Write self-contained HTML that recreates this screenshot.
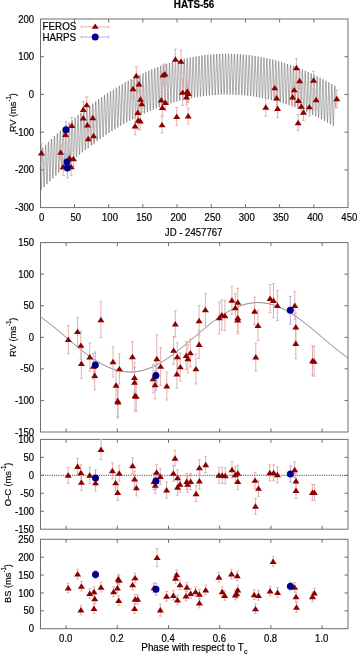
<!DOCTYPE html>
<html><head><meta charset="utf-8"><style>
html,body{margin:0;padding:0;background:#fff;width:357px;height:654px;overflow:hidden}
svg{display:block;filter:blur(0.4px)}
text{stroke:#000;stroke-width:0.18px}
</style></head><body>
<svg width="357" height="654" viewBox="0 0 357 654" font-family='"Liberation Sans", sans-serif' font-size="10.0" fill="#000"><rect width="357" height="654" fill="#fff"/><g transform="translate(194.10,7.50) scale(0.99,1)"><text text-anchor="middle" font-size="10.0" font-weight="bold">HATS-56</text></g><polyline points="40.30,166.88 40.42,172.10 40.55,177.20 40.67,181.84 40.79,185.67 40.91,188.45 41.04,189.95 41.16,190.09 41.28,188.83 41.41,186.26 41.53,182.54 41.65,177.91 41.78,172.69 41.90,167.22 42.02,161.86 42.14,156.98 42.27,152.89 42.39,149.86 42.51,148.10 42.64,147.72 42.76,148.72 42.88,151.04 43.01,154.52 43.13,158.89 43.25,163.86 43.37,169.08 43.50,174.19 43.62,178.82 43.74,182.66 43.87,185.43 43.99,186.94 44.11,187.08 44.24,185.83 44.36,183.25 44.48,179.54 44.60,174.91 44.73,169.69 44.85,164.22 44.97,158.87 45.10,153.99 45.22,149.90 45.34,146.88 45.47,145.12 45.59,144.73 45.71,145.74 45.83,148.07 45.96,151.54 46.08,155.91 46.20,160.89 46.33,166.11 46.45,171.22 46.57,175.85 46.70,179.69 46.82,182.47 46.94,183.98 47.06,184.12 47.19,182.87 47.31,180.30 47.43,176.58 47.56,171.96 47.68,166.74 47.80,161.28 47.92,155.93 48.05,151.04 48.17,146.96 48.29,143.94 48.42,142.18 48.54,141.80 48.66,142.81 48.79,145.13 48.91,148.61 49.03,152.99 49.15,157.96 49.28,163.19 49.40,168.30 49.52,172.93 49.65,176.78 49.77,179.56 49.89,181.07 50.02,181.21 50.14,179.96 50.26,177.39 50.38,173.68 50.51,169.06 50.63,163.84 50.75,158.38 50.88,153.03 51.00,148.15 51.12,144.07 51.25,141.05 51.37,139.29 51.49,138.91 51.61,139.92 51.74,142.25 51.86,145.73 51.98,150.11 52.11,155.08 52.23,160.31 52.35,165.42 52.48,170.06 52.60,173.91 52.72,176.69 52.84,178.21 52.97,178.35 53.09,177.10 53.21,174.53 53.34,170.82 53.46,166.20 53.58,160.99 53.71,155.53 53.83,150.18 53.95,145.30 54.07,141.22 54.20,138.20 54.32,136.45 54.44,136.07 54.57,137.09 54.69,139.42 54.81,142.90 54.94,147.28 55.06,152.26 55.18,157.48 55.30,162.60 55.43,167.24 55.55,171.09 55.67,173.87 55.80,175.39 55.92,175.53 56.04,174.29 56.16,171.72 56.29,168.01 56.41,163.40 56.53,158.19 56.66,152.73 56.78,147.38 56.90,142.50 57.03,138.42 57.15,135.41 57.27,133.66 57.39,133.28 57.52,134.30 57.64,136.63 57.76,140.11 57.89,144.49 58.01,149.48 58.13,154.71 58.26,159.82 58.38,164.47 58.50,168.32 58.62,171.10 58.75,172.62 58.87,172.77 58.99,171.52 59.12,168.96 59.24,165.25 59.36,160.64 59.49,155.43 59.61,149.97 59.73,144.63 59.85,139.75 59.98,135.68 60.10,132.66 60.22,130.91 60.35,130.54 60.47,131.56 60.59,133.89 60.72,137.37 60.84,141.76 60.96,146.74 61.08,151.98 61.21,157.09 61.33,161.74 61.45,165.59 61.58,168.38 61.70,169.90 61.82,170.05 61.95,168.81 62.07,166.25 62.19,162.54 62.31,157.93 62.44,152.72 62.56,147.26 62.68,141.92 62.81,137.05 62.93,132.97 63.05,129.96 63.17,128.22 63.30,127.85 63.42,128.87 63.54,131.20 63.67,134.69 63.79,139.07 63.91,144.06 64.04,149.29 64.16,154.41 64.28,159.06 64.40,162.91 64.53,165.70 64.65,167.23 64.77,167.38 64.90,166.14 65.02,163.58 65.14,159.87 65.27,155.27 65.39,150.06 65.51,144.61 65.63,139.27 65.76,134.40 65.88,130.32 66.00,127.31 66.13,125.57 66.25,125.20 66.37,126.22 66.50,128.56 66.62,132.05 66.74,136.44 66.86,141.42 66.99,146.66 67.11,151.78 67.23,156.43 67.36,160.29 67.48,163.08 67.60,164.60 67.73,164.76 67.85,163.52 67.97,160.96 68.09,157.26 68.22,152.65 68.34,147.45 68.46,142.00 68.59,136.66 68.71,131.79 68.83,127.72 68.96,124.71 69.08,122.97 69.20,122.60 69.32,123.63 69.45,125.97 69.57,129.45 69.69,133.85 69.82,138.83 69.94,144.07 70.06,149.20 70.18,153.85 70.31,157.71 70.43,160.50 70.55,162.03 70.68,162.18 70.80,160.94 70.92,158.39 71.05,154.69 71.17,150.09 71.29,144.88 71.41,139.43 71.54,134.10 71.66,129.23 71.78,125.16 71.91,122.16 72.03,120.42 72.15,120.05 72.28,121.08 72.40,123.42 72.52,126.91 72.64,131.30 72.77,136.29 72.89,141.53 73.01,146.66 73.14,151.31 73.26,155.17 73.38,157.97 73.51,159.50 73.63,159.66 73.75,158.42 73.87,155.87 74.00,152.17 74.12,147.57 74.24,142.37 74.37,136.92 74.49,131.59 74.61,126.72 74.74,122.65 74.86,119.65 74.98,117.91 75.10,117.55 75.23,118.58 75.35,120.92 75.47,124.41 75.60,128.81 75.72,133.80 75.84,139.04 75.97,144.17 76.09,148.83 76.21,152.69 76.33,155.49 76.46,157.02 76.58,157.18 76.70,155.94 76.83,153.40 76.95,149.70 77.07,145.10 77.19,139.90 77.32,134.45 77.44,129.12 77.56,124.26 77.69,120.19 77.81,117.19 77.93,115.46 78.06,115.10 78.18,116.13 78.30,118.47 78.42,121.97 78.55,126.36 78.67,131.36 78.79,136.60 78.92,141.73 79.04,146.39 79.16,150.25 79.29,153.05 79.41,154.59 79.53,154.75 79.65,153.52 79.78,150.97 79.90,147.27 80.02,142.68 80.15,137.48 80.27,132.04 80.39,126.71 80.52,121.85 80.64,117.78 80.76,114.78 80.88,113.05 81.01,112.69 81.13,113.72 81.25,116.07 81.38,119.57 81.50,123.97 81.62,128.96 81.75,134.21 81.87,139.34 81.99,144.00 82.11,147.87 82.24,150.67 82.36,152.20 82.48,152.37 82.61,151.14 82.73,148.59 82.85,144.90 82.98,140.30 83.10,135.11 83.22,129.67 83.34,124.34 83.47,119.48 83.59,115.42 83.71,112.42 83.84,110.69 83.96,110.33 84.08,111.37 84.21,113.72 84.33,117.21 84.45,121.62 84.57,126.61 84.70,131.86 84.82,137.00 84.94,141.66 85.07,145.53 85.19,148.33 85.31,149.87 85.43,150.03 85.56,148.81 85.68,146.26 85.80,142.57 85.93,137.98 86.05,132.79 86.17,127.34 86.30,122.02 86.42,117.16 86.54,113.10 86.66,110.11 86.79,108.38 86.91,108.02 87.03,109.06 87.16,111.41 87.28,114.91 87.40,119.31 87.53,124.32 87.65,129.57 87.77,134.70 87.89,139.37 88.02,143.24 88.14,146.04 88.26,147.58 88.39,147.75 88.51,146.52 88.63,143.98 88.76,140.29 88.88,135.70 89.00,130.51 89.12,125.07 89.25,119.75 89.37,114.89 89.49,110.84 89.62,107.84 89.74,106.12 89.86,105.76 89.99,106.80 90.11,109.15 90.23,112.66 90.35,117.06 90.48,122.06 90.60,127.32 90.72,132.45 90.85,137.12 90.97,140.99 91.09,143.80 91.22,145.34 91.34,145.51 91.46,144.29 91.58,141.75 91.71,138.06 91.83,133.47 91.95,128.28 92.08,122.85 92.20,117.52 92.32,112.67 92.44,108.62 92.57,105.63 92.69,103.90 92.81,103.55 92.94,104.59 93.06,106.94 93.18,110.45 93.31,114.86 93.43,119.86 93.55,125.12 93.67,130.26 93.80,134.92 93.92,138.80 94.04,141.61 94.17,143.15 94.29,143.32 94.41,142.10 94.54,139.56 94.66,135.88 94.78,131.29 94.90,126.10 95.03,120.67 95.15,115.35 95.27,110.50 95.40,106.45 95.52,103.46 95.64,101.73 95.77,101.38 95.89,102.43 96.01,104.78 96.13,108.29 96.26,112.70 96.38,117.71 96.50,122.96 96.63,128.10 96.75,132.78 96.87,136.65 97.00,139.46 97.12,141.01 97.24,141.18 97.36,139.96 97.49,137.43 97.61,133.74 97.73,129.16 97.86,123.97 97.98,118.54 98.10,113.22 98.23,108.37 98.35,104.32 98.47,101.34 98.59,99.61 98.72,99.27 98.84,100.31 98.96,102.67 99.09,106.18 99.21,110.59 99.33,115.60 99.45,120.86 99.58,126.00 99.70,130.67 99.82,134.55 99.95,137.36 100.07,138.91 100.19,139.09 100.32,137.87 100.44,135.34 100.56,131.66 100.68,127.07 100.81,121.89 100.93,116.46 101.05,111.14 101.18,106.30 101.30,102.25 101.42,99.26 101.55,97.54 101.67,97.20 101.79,98.24 101.91,100.61 102.04,104.12 102.16,108.53 102.28,113.54 102.41,118.80 102.53,123.95 102.65,128.62 102.78,132.50 102.90,135.32 103.02,136.87 103.14,137.04 103.27,135.83 103.39,133.30 103.51,129.62 103.64,125.03 103.76,119.86 103.88,114.43 104.01,109.11 104.13,104.27 104.25,100.22 104.37,97.24 104.50,95.52 104.62,95.18 104.74,96.22 104.87,98.59 104.99,102.10 105.11,106.52 105.24,111.53 105.36,116.79 105.48,121.94 105.60,126.62 105.73,130.50 105.85,133.31 105.97,134.87 106.10,135.05 106.22,133.83 106.34,131.30 106.47,127.63 106.59,123.05 106.71,117.87 106.83,112.44 106.96,107.13 107.08,102.29 107.20,98.24 107.33,95.26 107.45,93.55 107.57,93.20 107.69,94.25 107.82,96.62 107.94,100.13 108.06,104.55 108.19,109.57 108.31,114.83 108.43,119.98 108.56,124.66 108.68,128.54 108.80,131.36 108.92,132.92 109.05,133.10 109.17,131.89 109.29,129.36 109.42,125.68 109.54,121.11 109.66,115.93 109.79,110.51 109.91,105.19 110.03,100.36 110.15,96.31 110.28,93.33 110.40,91.62 110.52,91.28 110.65,92.33 110.77,94.70 110.89,98.22 111.02,102.64 111.14,107.65 111.26,112.92 111.38,118.07 111.51,122.75 111.63,126.64 111.75,129.46 111.88,131.01 112.00,131.20 112.12,129.99 112.25,127.46 112.37,123.79 112.49,119.21 112.61,114.04 112.74,108.62 112.86,103.31 112.98,98.47 113.11,94.43 113.23,91.45 113.35,89.74 113.48,89.40 113.60,90.46 113.72,92.83 113.84,96.35 113.97,100.77 114.09,105.79 114.21,111.05 114.34,116.21 114.46,120.89 114.58,124.78 114.70,127.60 114.83,129.16 114.95,129.34 115.07,128.14 115.20,125.61 115.32,121.94 115.44,117.37 115.57,112.20 115.69,106.78 115.81,101.47 115.93,96.64 116.06,92.60 116.18,89.62 116.30,87.91 116.43,87.57 116.55,88.63 116.67,91.00 116.80,94.52 116.92,98.95 117.04,103.97 117.16,109.24 117.29,114.39 117.41,119.08 117.53,122.97 117.66,125.79 117.78,127.35 117.90,127.54 118.03,126.33 118.15,123.81 118.27,120.15 118.39,115.57 118.52,110.40 118.64,104.98 118.76,99.68 118.89,94.85 119.01,90.81 119.13,87.84 119.26,86.13 119.38,85.79 119.50,86.85 119.62,89.23 119.75,92.75 119.87,97.17 119.99,102.20 120.12,107.47 120.24,112.63 120.36,117.31 120.49,121.21 120.61,124.03 120.73,125.60 120.85,125.78 120.98,124.58 121.10,122.06 121.22,118.39 121.35,113.82 121.47,108.66 121.59,103.24 121.71,97.94 121.84,93.11 121.96,89.07 122.08,86.10 122.21,84.39 122.33,84.06 122.45,85.12 122.58,87.50 122.70,91.02 122.82,95.45 122.94,100.48 123.07,105.75 123.19,110.91 123.31,115.60 123.44,119.49 123.56,122.32 123.68,123.89 123.81,124.08 123.93,122.87 124.05,120.36 124.17,116.69 124.30,112.12 124.42,106.96 124.54,101.54 124.67,96.24 124.79,91.41 124.91,87.38 125.04,84.41 125.16,82.71 125.28,82.38 125.40,83.44 125.53,85.82 125.65,89.34 125.77,93.77 125.90,98.80 126.02,104.08 126.14,109.24 126.27,113.93 126.39,117.83 126.51,120.66 126.63,122.22 126.76,122.42 126.88,121.22 127.00,118.70 127.13,115.04 127.25,110.47 127.37,105.31 127.50,99.90 127.62,94.60 127.74,89.77 127.86,85.74 127.99,82.77 128.11,81.07 128.23,80.74 128.36,81.81 128.48,84.19 128.60,87.72 128.73,92.15 128.85,97.18 128.97,102.45 129.09,107.62 129.22,112.31 129.34,116.21 129.46,119.04 129.59,120.61 129.71,120.80 129.83,119.61 129.95,117.09 130.08,113.43 130.20,108.87 130.32,103.71 130.45,98.30 130.57,93.00 130.69,88.18 130.82,84.15 130.94,81.18 131.06,79.48 131.18,79.16 131.31,80.22 131.43,82.60 131.55,86.13 131.68,90.57 131.80,95.60 131.92,100.88 132.05,106.04 132.17,110.74 132.29,114.64 132.41,117.47 132.54,119.04 132.66,119.24 132.78,118.05 132.91,115.53 133.03,111.88 133.15,107.31 133.28,102.15 133.40,96.74 133.52,91.45 133.64,86.63 133.77,82.60 133.89,79.64 134.01,77.94 134.14,77.62 134.26,78.68 134.38,81.07 134.51,84.60 134.63,89.04 134.75,94.07 134.87,99.35 135.00,104.52 135.12,109.22 135.24,113.12 135.37,115.95 135.49,117.53 135.61,117.73 135.74,116.53 135.86,114.02 135.98,110.37 136.10,105.81 136.23,100.65 136.35,95.24 136.47,89.95 136.60,85.13 136.72,81.10 136.84,78.14 136.96,76.45 137.09,76.12 137.21,77.19 137.33,79.58 137.46,83.11 137.58,87.55 137.70,92.59 137.83,97.87 137.95,103.04 138.07,107.74 138.19,111.64 138.32,114.48 138.44,116.06 138.56,116.26 138.69,115.07 138.81,112.56 138.93,108.90 139.06,104.35 139.18,99.19 139.30,93.79 139.42,88.50 139.55,83.68 139.67,79.65 139.79,76.70 139.92,75.00 140.04,74.68 140.16,75.75 140.29,78.14 140.41,81.68 140.53,86.12 140.65,91.15 140.78,96.44 140.90,101.61 141.02,106.31 141.15,110.22 141.27,113.06 141.39,114.64 141.52,114.84 141.64,113.65 141.76,111.14 141.88,107.49 142.01,102.94 142.13,97.78 142.25,92.38 142.38,87.09 142.50,82.27 142.62,78.25 142.75,75.30 142.87,73.60 142.99,73.29 143.11,74.36 143.24,76.75 143.36,80.29 143.48,84.73 143.61,89.77 143.73,95.06 143.85,100.23 143.97,104.93 144.10,108.84 144.22,111.68 144.34,113.26 144.47,113.47 144.59,112.28 144.71,109.78 144.84,106.13 144.96,101.57 145.08,96.42 145.20,91.02 145.33,85.73 145.45,80.92 145.57,76.90 145.70,73.95 145.82,72.25 145.94,71.94 146.07,73.01 146.19,75.41 146.31,78.95 146.43,83.39 146.56,88.43 146.68,93.72 146.80,98.90 146.93,103.60 147.05,107.51 147.17,110.36 147.30,111.94 147.42,112.14 147.54,110.96 147.66,108.46 147.79,104.81 147.91,100.26 148.03,95.11 148.16,89.71 148.28,84.42 148.40,79.61 148.53,75.59 148.65,72.64 148.77,70.95 148.89,70.64 149.02,71.72 149.14,74.11 149.26,77.65 149.39,82.10 149.51,87.14 149.63,92.43 149.76,97.61 149.88,102.32 150.00,106.23 150.12,109.08 150.25,110.66 150.37,110.87 150.49,109.69 150.62,107.19 150.74,103.54 150.86,98.99 150.99,93.84 151.11,88.45 151.23,83.16 151.35,78.35 151.48,74.34 151.60,71.39 151.72,69.70 151.85,69.39 151.97,70.47 152.09,72.86 152.21,76.41 152.34,80.86 152.46,85.90 152.58,91.20 152.71,96.38 152.83,101.09 152.95,105.00 153.08,107.85 153.20,109.43 153.32,109.64 153.44,108.46 153.57,105.96 153.69,102.32 153.81,97.77 153.94,92.63 154.06,87.23 154.18,81.95 154.31,77.14 154.43,73.13 154.55,70.18 154.67,68.50 154.80,68.19 154.92,69.27 155.04,71.67 155.17,75.21 155.29,79.66 155.41,84.71 155.54,90.01 155.66,95.19 155.78,99.90 155.90,103.81 156.03,106.66 156.15,108.25 156.27,108.46 156.40,107.28 156.52,104.79 156.64,101.15 156.77,96.60 156.89,91.46 157.01,86.06 157.13,80.79 157.26,75.98 157.38,71.97 157.50,69.02 157.63,67.34 157.75,67.03 157.87,68.12 158.00,70.52 158.12,74.06 158.24,78.52 158.36,83.56 158.49,88.86 158.61,94.05 158.73,98.76 158.86,102.68 158.98,105.53 159.10,107.12 159.22,107.33 159.35,106.16 159.47,103.66 159.59,100.02 159.72,95.48 159.84,90.34 159.96,84.95 160.09,79.67 160.21,74.86 160.33,70.86 160.45,67.91 160.58,66.23 160.70,65.92 160.82,67.01 160.95,69.41 161.07,72.96 161.19,77.42 161.32,82.47 161.44,87.77 161.56,92.95 161.68,97.67 161.81,101.59 161.93,104.44 162.05,106.03 162.18,106.25 162.30,105.08 162.42,102.59 162.55,98.95 162.67,94.40 162.79,89.26 162.91,83.88 163.04,78.60 163.16,73.80 163.28,69.79 163.41,66.85 163.53,65.17 163.65,64.87 163.78,65.95 163.90,68.36 164.02,71.91 164.14,76.37 164.27,81.42 164.39,86.72 164.51,91.91 164.64,96.63 164.76,100.55 164.88,103.40 165.01,105.00 165.13,105.22 165.25,104.04 165.37,101.55 165.50,97.92 165.62,93.38 165.74,88.24 165.87,82.85 165.99,77.58 166.11,72.78 166.23,68.77 166.36,65.83 166.48,64.16 166.60,63.86 166.73,64.95 166.85,67.35 166.97,70.91 167.10,75.36 167.22,80.42 167.34,85.72 167.46,90.91 167.59,95.63 167.71,99.56 167.83,102.41 167.96,104.01 168.08,104.23 168.20,103.06 168.33,100.57 168.45,96.94 168.57,92.40 168.69,87.26 168.82,81.88 168.94,76.61 169.06,71.81 169.19,67.81 169.31,64.87 169.43,63.19 169.56,62.89 169.68,63.99 169.80,66.39 169.92,69.95 170.05,74.41 170.17,79.47 170.29,84.77 170.42,89.97 170.54,94.69 170.66,98.61 170.79,101.47 170.91,103.07 171.03,103.29 171.15,102.12 171.28,99.64 171.40,96.01 171.52,91.47 171.65,86.34 171.77,80.95 171.89,75.68 172.02,70.89 172.14,66.89 172.26,63.95 172.38,62.28 172.51,61.98 172.63,63.07 172.75,65.48 172.88,69.04 173.00,73.50 173.12,78.56 173.24,83.87 173.37,89.07 173.49,93.79 173.61,97.72 173.74,100.58 173.86,102.18 173.98,102.40 174.11,101.24 174.23,98.75 174.35,95.12 174.47,90.59 174.60,85.46 174.72,80.07 174.84,74.81 174.97,70.01 175.09,66.01 175.21,63.08 175.34,61.41 175.46,61.11 175.58,62.21 175.70,64.62 175.83,68.18 175.95,72.65 176.07,77.71 176.20,83.02 176.32,88.21 176.44,92.94 176.57,96.87 176.69,99.73 176.81,101.33 176.93,101.56 177.06,100.40 177.18,97.91 177.30,94.29 177.43,89.75 177.55,84.62 177.67,79.24 177.80,73.98 177.92,69.19 178.04,65.19 178.16,62.26 178.29,60.59 178.41,60.30 178.53,61.39 178.66,63.81 178.78,67.37 178.90,71.84 179.03,76.90 179.15,82.21 179.27,87.41 179.39,92.14 179.52,96.07 179.64,98.93 179.76,100.54 179.89,100.77 180.01,99.60 180.13,97.12 180.26,93.50 180.38,88.97 180.50,83.84 180.62,78.46 180.75,73.20 180.87,68.41 180.99,64.41 181.12,61.48 181.24,59.82 181.36,59.53 181.48,60.63 181.61,63.04 181.73,66.61 181.85,71.07 181.98,76.14 182.10,81.45 182.22,86.65 182.35,91.38 182.47,95.32 182.59,98.19 182.71,99.79 182.84,100.02 182.96,98.86 183.08,96.38 183.21,92.76 183.33,88.23 183.45,83.10 183.58,77.73 183.70,72.47 183.82,67.68 183.94,63.69 184.07,60.76 184.19,59.09 184.31,58.80 184.44,59.91 184.56,62.32 184.68,65.89 184.81,70.36 184.93,75.43 185.05,80.74 185.17,85.95 185.30,90.68 185.42,94.61 185.54,97.48 185.67,99.09 185.79,99.32 185.91,98.16 186.04,95.69 186.16,92.07 186.28,87.54 186.40,82.42 186.53,77.04 186.65,71.79 186.77,67.00 186.90,63.01 187.02,60.08 187.14,58.42 187.27,58.13 187.39,59.24 187.51,61.66 187.63,65.22 187.76,69.70 187.88,74.76 188.00,80.08 188.13,85.29 188.25,90.02 188.37,93.96 188.49,96.83 188.62,98.44 188.74,98.67 188.86,97.52 188.99,95.04 189.11,91.42 189.23,86.90 189.36,81.78 189.48,76.41 189.60,71.15 189.72,66.37 189.85,62.38 189.97,59.45 190.09,57.79 190.22,57.51 190.34,58.61 190.46,61.03 190.59,64.60 190.71,69.08 190.83,74.15 190.95,79.47 191.08,84.68 191.20,89.41 191.32,93.35 191.45,96.23 191.57,97.84 191.69,98.07 191.82,96.92 191.94,94.45 192.06,90.83 192.18,86.31 192.31,81.19 192.43,75.82 192.55,70.56 192.68,65.78 192.80,61.79 192.92,58.87 193.05,57.21 193.17,56.93 193.29,58.04 193.41,60.46 193.54,64.03 193.66,68.51 193.78,73.58 193.91,78.90 194.03,84.11 194.15,88.85 194.28,92.79 194.40,95.67 194.52,97.28 194.64,97.52 194.77,96.37 194.89,93.90 195.01,90.28 195.14,85.76 195.26,80.64 195.38,75.28 195.50,70.02 195.63,65.24 195.75,61.26 195.87,58.34 196.00,56.68 196.12,56.40 196.24,57.51 196.37,59.94 196.49,63.51 196.61,67.99 196.73,73.06 196.86,78.39 196.98,83.60 197.10,88.34 197.23,92.28 197.35,95.16 197.47,96.77 197.60,97.01 197.72,95.86 197.84,93.40 197.96,89.78 198.09,85.26 198.21,80.15 198.33,74.78 198.46,69.53 198.58,64.75 198.70,60.77 198.83,57.85 198.95,56.20 199.07,55.92 199.19,57.03 199.32,59.46 199.44,63.04 199.56,67.52 199.69,72.59 199.81,77.92 199.93,83.13 200.06,87.87 200.18,91.82 200.30,94.70 200.42,96.32 200.55,96.56 200.67,95.41 200.79,92.94 200.92,89.33 201.04,84.81 201.16,79.70 201.29,74.34 201.41,69.09 201.53,64.31 201.65,60.33 201.78,57.42 201.90,55.76 202.02,55.49 202.15,56.60 202.27,59.03 202.39,62.61 202.52,67.09 202.64,72.17 202.76,77.50 202.88,82.71 203.01,87.46 203.13,91.40 203.25,94.29 203.38,95.90 203.50,96.15 203.62,95.00 203.74,92.54 203.87,88.93 203.99,84.41 204.11,79.30 204.24,73.94 204.36,68.70 204.48,63.92 204.61,59.94 204.73,57.03 204.85,55.38 204.97,55.10 205.10,56.22 205.22,58.65 205.34,62.23 205.47,66.71 205.59,71.79 205.71,77.13 205.84,82.34 205.96,87.09 206.08,91.04 206.20,93.92 206.33,95.54 206.45,95.79 206.57,94.64 206.70,92.18 206.82,88.57 206.94,84.06 207.07,78.95 207.19,73.59 207.31,68.35 207.43,63.58 207.56,59.60 207.68,56.69 207.80,55.04 207.93,54.76 208.05,55.88 208.17,58.32 208.30,61.90 208.42,66.38 208.54,71.47 208.66,76.80 208.79,82.02 208.91,86.77 209.03,90.72 209.16,93.60 209.28,95.23 209.40,95.48 209.53,94.33 209.65,91.87 209.77,88.27 209.89,83.76 210.02,78.65 210.14,73.29 210.26,68.05 210.39,63.28 210.51,59.30 210.63,56.39 210.75,54.75 210.88,54.48 211.00,55.60 211.12,58.03 211.25,61.62 211.37,66.10 211.49,71.19 211.62,76.52 211.74,81.74 211.86,86.49 211.98,90.45 212.11,93.34 212.23,94.96 212.35,95.21 212.48,94.07 212.60,91.61 212.72,88.01 212.85,83.50 212.97,78.39 213.09,73.04 213.21,67.80 213.34,63.03 213.46,59.06 213.58,56.15 213.71,54.51 213.83,54.24 213.95,55.36 214.08,57.80 214.20,61.38 214.32,65.87 214.44,70.96 214.57,76.30 214.69,81.52 214.81,86.27 214.94,90.22 215.06,93.11 215.18,94.74 215.31,95.00 215.43,93.86 215.55,91.40 215.67,87.80 215.80,83.29 215.92,78.19 216.04,72.84 216.17,67.60 216.29,62.83 216.41,58.86 216.54,55.95 216.66,54.31 216.78,54.04 216.90,55.17 217.03,57.61 217.15,61.20 217.27,65.69 217.40,70.78 217.52,76.12 217.64,81.34 217.76,86.09 217.89,90.05 218.01,92.94 218.13,94.57 218.26,94.83 218.38,93.69 218.50,91.24 218.63,87.64 218.75,83.13 218.87,78.03 218.99,72.68 219.12,67.44 219.24,62.68 219.36,58.71 219.49,55.81 219.61,54.16 219.73,53.90 219.86,55.03 219.98,57.47 220.10,61.06 220.22,65.55 220.35,70.64 220.47,75.98 220.59,81.21 220.72,85.96 220.84,89.92 220.96,92.82 221.09,94.45 221.21,94.71 221.33,93.57 221.45,91.12 221.58,87.52 221.70,83.02 221.82,77.92 221.95,72.57 222.07,67.34 222.19,62.57 222.32,58.61 222.44,55.71 222.56,54.07 222.68,53.80 222.81,54.93 222.93,57.38 223.05,60.97 223.18,65.46 223.30,70.56 223.42,75.90 223.55,81.13 223.67,85.88 223.79,89.85 223.91,92.74 224.04,94.38 224.16,94.63 224.28,93.50 224.41,91.05 224.53,87.46 224.65,82.96 224.78,77.86 224.90,72.51 225.02,67.28 225.14,62.52 225.27,58.55 225.39,55.65 225.51,54.02 225.64,53.76 225.76,54.89 225.88,57.33 226.00,60.93 226.13,65.42 226.25,70.52 226.37,75.86 226.50,81.09 226.62,85.85 226.74,89.82 226.87,92.71 226.99,94.35 227.11,94.61 227.23,93.48 227.36,91.03 227.48,87.44 227.60,82.94 227.73,77.84 227.85,72.50 227.97,67.27 228.10,62.51 228.22,58.55 228.34,55.65 228.46,54.02 228.59,53.76 228.71,54.89 228.83,57.34 228.96,60.93 229.08,65.43 229.20,70.53 229.33,75.88 229.45,81.11 229.57,85.87 229.69,89.83 229.82,92.73 229.94,94.37 230.06,94.64 230.19,93.51 230.31,91.06 230.43,87.47 230.56,82.97 230.68,77.88 230.80,72.54 230.92,67.31 231.05,62.55 231.17,58.59 231.29,55.69 231.42,54.06 231.54,53.80 231.66,54.94 231.79,57.39 231.91,60.99 232.03,65.49 232.15,70.59 232.28,75.94 232.40,81.17 232.52,85.93 232.65,89.90 232.77,92.80 232.89,94.44 233.01,94.71 233.14,93.58 233.26,91.14 233.38,87.55 233.51,83.05 233.63,77.96 233.75,72.62 233.88,67.39 234.00,62.64 234.12,58.68 234.24,55.79 234.37,54.16 234.49,53.90 234.61,55.04 234.74,57.49 234.86,61.09 234.98,65.59 235.11,70.69 235.23,76.04 235.35,81.28 235.47,86.05 235.60,90.02 235.72,92.92 235.84,94.56 235.97,94.83 236.09,93.70 236.21,91.26 236.34,87.67 236.46,83.18 236.58,78.09 236.70,72.75 236.83,67.53 236.95,62.78 237.07,58.82 237.20,55.93 237.32,54.30 237.44,54.04 237.57,55.18 237.69,57.64 237.81,61.24 237.93,65.75 238.06,70.85 238.18,76.20 238.30,81.44 238.43,86.21 238.55,90.18 238.67,93.08 238.80,94.73 238.92,95.00 239.04,93.87 239.16,91.43 239.29,87.85 239.41,83.36 239.53,78.27 239.66,72.93 239.78,67.71 239.90,62.96 240.02,59.01 240.15,56.12 240.27,54.49 240.39,54.24 240.52,55.38 240.64,57.83 240.76,61.44 240.89,65.95 241.01,71.05 241.13,76.41 241.25,81.65 241.38,86.41 241.50,90.39 241.62,93.30 241.75,94.94 241.87,95.21 241.99,94.09 242.12,91.66 242.24,88.07 242.36,83.58 242.48,78.50 242.61,73.16 242.73,67.94 242.85,63.19 242.98,59.24 243.10,56.35 243.22,54.73 243.35,54.48 243.47,55.62 243.59,58.08 243.71,61.68 243.84,66.19 243.96,71.30 244.08,76.66 244.21,81.90 244.33,86.67 244.45,90.65 244.58,93.56 244.70,95.21 244.82,95.48 244.94,94.36 245.07,91.92 245.19,88.34 245.31,83.86 245.44,78.77 245.56,73.44 245.68,68.22 245.81,63.47 245.93,59.52 246.05,56.64 246.17,55.01 246.30,54.77 246.42,55.91 246.54,58.37 246.67,61.98 246.79,66.49 246.91,71.60 247.03,76.96 247.16,82.20 247.28,86.98 247.40,90.95 247.53,93.87 247.65,95.52 247.77,95.79 247.90,94.67 248.02,92.24 248.14,88.66 248.26,84.18 248.39,79.09 248.51,73.76 248.63,68.55 248.76,63.80 248.88,59.85 249.00,56.97 249.13,55.35 249.25,55.10 249.37,56.25 249.49,58.71 249.62,62.32 249.74,66.84 249.86,71.95 249.99,77.31 250.11,82.55 250.23,87.33 250.36,91.31 250.48,94.22 250.60,95.88 250.72,96.15 250.85,95.04 250.97,92.61 251.09,89.03 251.22,84.55 251.34,79.47 251.46,74.14 251.59,68.92 251.71,64.18 251.83,60.23 251.95,57.35 252.08,55.73 252.20,55.49 252.32,56.64 252.45,59.10 252.57,62.71 252.69,67.23 252.82,72.34 252.94,77.71 253.06,82.95 253.18,87.73 253.31,91.71 253.43,94.63 253.55,96.28 253.68,96.56 253.80,95.45 253.92,93.02 254.05,89.44 254.17,84.96 254.29,79.89 254.41,74.56 254.54,69.35 254.66,64.61 254.78,60.66 254.91,57.78 255.03,56.16 255.15,55.92 255.27,57.07 255.40,59.54 255.52,63.15 255.64,67.67 255.77,72.79 255.89,78.15 256.01,83.40 256.14,88.18 256.26,92.16 256.38,95.08 256.50,96.74 256.63,97.02 256.75,95.91 256.87,93.48 257.00,89.91 257.12,85.43 257.24,80.35 257.37,75.03 257.49,69.82 257.61,65.08 257.73,61.14 257.86,58.26 257.98,56.64 258.10,56.40 258.23,57.56 258.35,60.02 258.47,63.64 258.60,68.16 258.72,73.28 258.84,78.64 258.96,83.90 259.09,88.68 259.21,92.66 259.33,95.58 259.46,97.24 259.58,97.52 259.70,96.41 259.83,93.99 259.95,90.42 260.07,85.94 260.19,80.87 260.32,75.55 260.44,70.34 260.56,65.60 260.69,61.66 260.81,58.78 260.93,57.17 261.06,56.93 261.18,58.09 261.30,60.56 261.42,64.18 261.55,68.70 261.67,73.82 261.79,79.19 261.92,84.44 262.04,89.22 262.16,93.21 262.28,96.13 262.41,97.79 262.53,98.08 262.65,96.97 262.78,94.55 262.90,90.98 263.02,86.50 263.15,81.43 263.27,76.11 263.39,70.90 263.51,66.17 263.64,62.23 263.76,59.36 263.88,57.75 264.01,57.51 264.13,58.67 264.25,61.14 264.38,64.76 264.50,69.28 264.62,74.40 264.74,79.78 264.87,85.03 264.99,89.82 265.11,93.81 265.24,96.73 265.36,98.39 265.48,98.68 265.61,97.57 265.73,95.15 265.85,91.58 265.97,87.11 266.10,82.04 266.22,76.72 266.34,71.52 266.47,66.79 266.59,62.85 266.71,59.98 266.84,58.37 266.96,58.14 267.08,59.29 267.20,61.77 267.33,65.39 267.45,69.92 267.57,75.04 267.70,80.41 267.82,85.67 267.94,90.46 268.07,94.45 268.19,97.38 268.31,99.04 268.43,99.33 268.56,98.23 268.68,95.81 268.80,92.24 268.93,87.77 269.05,82.70 269.17,77.39 269.29,72.18 269.42,67.45 269.54,63.52 269.66,60.65 269.79,59.04 269.91,58.81 270.03,59.97 270.16,62.45 270.28,66.07 270.40,70.60 270.52,75.72 270.65,81.10 270.77,86.36 270.89,91.15 271.02,95.14 271.14,98.07 271.26,99.74 271.39,100.03 271.51,98.93 271.63,96.51 271.75,92.94 271.88,88.48 272.00,83.41 272.12,78.10 272.25,72.90 272.37,68.17 272.49,64.23 272.62,61.37 272.74,59.76 272.86,59.53 272.98,60.69 273.11,63.17 273.23,66.80 273.35,71.33 273.48,76.46 273.60,81.83 273.72,87.10 273.85,91.89 273.97,95.88 274.09,98.81 274.21,100.48 274.34,100.77 274.46,99.67 274.58,97.26 274.71,93.70 274.83,89.23 274.95,84.17 275.08,78.85 275.20,73.66 275.32,68.93 275.44,65.00 275.57,62.13 275.69,60.53 275.81,60.30 275.94,61.47 276.06,63.95 276.18,67.58 276.31,72.11 276.43,77.24 276.55,82.62 276.67,87.88 276.80,92.67 276.92,96.67 277.04,99.60 277.17,101.27 277.29,101.57 277.41,100.47 277.53,98.06 277.66,94.50 277.78,90.03 277.90,84.97 278.03,79.66 278.15,74.46 278.27,69.74 278.40,65.81 278.52,62.95 278.64,61.35 278.76,61.12 278.89,62.29 279.01,64.77 279.13,68.40 279.26,72.93 279.38,78.06 279.50,83.45 279.63,88.71 279.75,93.51 279.87,97.51 279.99,100.44 280.12,102.11 280.24,102.41 280.36,101.31 280.49,98.90 280.61,95.34 280.73,90.88 280.86,85.82 280.98,80.51 281.10,75.32 281.22,70.60 281.35,66.67 281.47,63.81 281.59,62.21 281.72,61.99 281.84,63.16 281.96,65.64 282.09,69.27 282.21,73.81 282.33,78.94 282.45,84.32 282.58,89.59 282.70,94.39 282.82,98.39 282.95,101.33 283.07,103.00 283.19,103.30 283.32,102.21 283.44,99.80 283.56,96.24 283.68,91.78 283.81,86.72 283.93,81.42 284.05,76.23 284.18,71.50 284.30,67.58 284.42,64.72 284.54,63.12 284.67,62.90 284.79,64.07 284.91,66.56 285.04,70.19 285.16,74.73 285.28,79.87 285.41,85.25 285.53,90.52 285.65,95.32 285.77,99.32 285.90,102.26 286.02,103.94 286.14,104.24 286.27,103.15 286.39,100.74 286.51,97.19 286.64,92.73 286.76,87.67 286.88,82.37 287.00,77.18 287.13,72.46 287.25,68.54 287.37,65.68 287.50,64.08 287.62,63.86 287.74,65.04 287.87,67.52 287.99,71.16 288.11,75.70 288.23,80.84 288.36,86.22 288.48,91.50 288.60,96.30 288.73,100.30 288.85,103.24 288.97,104.92 289.10,105.22 289.22,104.14 289.34,101.73 289.46,98.18 289.59,93.72 289.71,88.67 289.83,83.37 289.96,78.18 290.08,73.46 290.20,69.54 290.33,66.68 290.45,65.09 290.57,64.87 290.69,66.05 290.82,68.54 290.94,72.18 291.06,76.72 291.19,81.86 291.31,87.25 291.43,92.52 291.55,97.32 291.68,101.33 291.80,104.28 291.92,105.95 292.05,106.26 292.17,105.17 292.29,102.77 292.42,99.22 292.54,94.76 292.66,89.71 292.78,84.41 292.91,79.23 293.03,74.51 293.15,70.59 293.28,67.74 293.40,66.15 293.52,65.93 293.65,67.11 293.77,69.60 293.89,73.24 294.01,77.79 294.14,82.93 294.26,88.32 294.38,93.59 294.51,98.40 294.63,102.41 294.75,105.35 294.88,107.04 295.00,107.34 295.12,106.26 295.24,103.86 295.37,100.31 295.49,95.86 295.61,90.81 295.74,85.51 295.86,80.32 295.98,75.61 296.11,71.69 296.23,68.84 296.35,67.25 296.47,67.04 296.60,68.22 296.72,70.71 296.84,74.36 296.97,78.90 297.09,84.04 297.21,89.44 297.34,94.72 297.46,99.52 297.58,103.53 297.70,106.48 297.83,108.16 297.95,108.47 298.07,107.39 298.20,104.99 298.32,101.44 298.44,96.99 298.56,91.95 298.69,86.65 298.81,81.47 298.93,76.76 299.06,72.84 299.18,69.99 299.30,68.41 299.43,68.20 299.55,69.38 299.67,71.87 299.79,75.52 299.92,80.06 300.04,85.21 300.16,90.60 300.29,95.88 300.41,100.69 300.53,104.71 300.66,107.66 300.78,109.34 300.90,109.65 301.02,108.57 301.15,106.17 301.27,102.63 301.39,98.18 301.52,93.14 301.64,87.84 301.76,82.66 301.89,77.95 302.01,74.04 302.13,71.19 302.25,69.61 302.38,69.40 302.50,70.58 302.62,73.08 302.75,76.73 302.87,81.28 302.99,86.42 303.12,91.82 303.24,97.10 303.36,101.91 303.48,105.93 303.61,108.88 303.73,110.57 303.85,110.88 303.98,109.80 304.10,107.41 304.22,103.86 304.35,99.42 304.47,94.37 304.59,89.08 304.71,83.90 304.84,79.20 304.96,75.29 305.08,72.44 305.21,70.86 305.33,70.65 305.45,71.83 305.58,74.33 305.70,77.98 305.82,82.53 305.94,87.68 306.07,93.08 306.19,98.37 306.31,103.18 306.44,107.20 306.56,110.15 306.68,111.84 306.80,112.15 306.93,111.08 307.05,108.69 307.17,105.14 307.30,100.70 307.42,95.66 307.54,90.37 307.67,85.19 307.79,80.49 307.91,76.58 308.03,73.74 308.16,72.15 308.28,71.95 308.40,73.14 308.53,75.64 308.65,79.29 308.77,83.84 308.90,88.99 309.02,94.39 309.14,99.68 309.26,104.50 309.39,108.52 309.51,111.47 309.63,113.16 309.76,113.48 309.88,112.40 310.00,110.01 310.13,106.47 310.25,102.03 310.37,96.99 310.49,91.70 310.62,86.53 310.74,81.83 310.86,77.92 310.99,75.08 311.11,73.50 311.23,73.30 311.36,74.49 311.48,76.99 311.60,80.64 311.72,85.20 311.85,90.35 311.97,95.75 312.09,101.04 312.22,105.86 312.34,109.88 312.46,112.84 312.59,114.53 312.71,114.85 312.83,113.78 312.95,111.39 313.08,107.85 313.20,103.41 313.32,98.37 313.45,93.09 313.57,87.92 313.69,83.21 313.81,79.31 313.94,76.47 314.06,74.89 314.18,74.69 314.31,75.88 314.43,78.39 314.55,82.04 314.68,86.60 314.80,91.76 314.92,97.16 315.04,102.45 315.17,107.27 315.29,111.29 315.41,114.25 315.54,115.95 315.66,116.27 315.78,115.20 315.91,112.81 316.03,109.28 316.15,104.84 316.27,99.80 316.40,94.52 316.52,89.35 316.64,84.65 316.77,80.75 316.89,77.91 317.01,76.34 317.14,76.14 317.26,77.33 317.38,79.84 317.50,83.49 317.63,88.05 317.75,93.21 317.87,98.62 318.00,103.91 318.12,108.73 318.24,112.76 318.37,115.72 318.49,117.41 318.61,117.74 318.73,116.67 318.86,114.28 318.98,110.75 319.10,106.31 319.23,101.28 319.35,96.00 319.47,90.83 319.60,86.13 319.72,82.23 319.84,79.40 319.96,77.83 320.09,77.63 320.21,78.82 320.33,81.33 320.46,84.99 320.58,89.55 320.70,94.71 320.82,100.12 320.95,105.42 321.07,110.24 321.19,114.27 321.32,117.23 321.44,118.93 321.56,119.25 321.69,118.19 321.81,115.80 321.93,112.27 322.05,107.84 322.18,102.81 322.30,97.53 322.42,92.36 322.55,87.67 322.67,83.77 322.79,80.93 322.92,79.36 323.04,79.17 323.16,80.36 323.28,82.88 323.41,86.54 323.53,91.10 323.65,96.26 323.78,101.67 323.90,106.97 324.02,111.79 324.15,115.82 324.27,118.79 324.39,120.49 324.51,120.82 324.64,119.75 324.76,117.37 324.88,113.84 325.01,109.41 325.13,104.38 325.25,99.10 325.38,93.94 325.50,89.25 325.62,85.35 325.74,82.52 325.87,80.95 325.99,80.76 326.11,81.95 326.24,84.47 326.36,88.13 326.48,92.70 326.61,97.86 326.73,103.27 326.85,108.57 326.97,113.40 327.10,117.43 327.22,120.40 327.34,122.10 327.47,122.43 327.59,121.37 327.71,118.99 327.84,115.46 327.96,111.03 328.08,106.00 328.20,100.73 328.33,95.57 328.45,90.87 328.57,86.98 328.70,84.15 328.82,82.58 328.94,82.39 329.06,83.59 329.19,86.11 329.31,89.77 329.43,94.34 329.56,99.51 329.68,104.92 329.80,110.22 329.93,115.05 330.05,119.08 330.17,122.05 330.29,123.76 330.42,124.09 330.54,123.03 330.66,120.65 330.79,117.13 330.91,112.70 331.03,107.67 331.16,102.40 331.28,97.24 331.40,92.55 331.52,88.66 331.65,85.83 331.77,84.27 331.89,84.08 332.02,85.28 332.14,87.80 332.26,91.46 332.39,96.03 332.51,101.20 332.63,106.62 332.75,111.92 332.88,116.75 333.00,120.79 333.12,123.76 333.25,125.47 333.37,125.80 333.49,124.74 333.62,122.36 333.74,118.84 333.86,114.42 333.98,109.39 334.11,104.12 334.23,98.96 334.35,94.28 334.48,90.38 334.60,87.56 334.72,86.00 334.85,85.81 334.97,87.01 335.09,89.53 335.21,93.20 335.34,97.77 335.46,102.94 335.58,108.36" fill="none" stroke="#000" stroke-width="0.32"/><rect x="40.5" y="19.0" width="307.50" height="188.60" fill="none" stroke="#6e6e6e" stroke-width="1"/><path d="M74.49,207.60v-3.5M74.49,19.00v3.5M108.68,207.60v-3.5M108.68,19.00v3.5M142.87,207.60v-3.5M142.87,19.00v3.5M177.06,207.60v-3.5M177.06,19.00v3.5M211.24,207.60v-3.5M211.24,19.00v3.5M245.43,207.60v-3.5M245.43,19.00v3.5M279.62,207.60v-3.5M279.62,19.00v3.5M313.81,207.60v-3.5M313.81,19.00v3.5M40.50,56.72h3.5M348.00,56.72h-3.5M40.50,94.44h3.5M348.00,94.44h-3.5M40.50,132.16h3.5M348.00,132.16h-3.5M40.50,169.88h3.5M348.00,169.88h-3.5" stroke="#6e6e6e" stroke-width="1" fill="none"/><g transform="translate(34.10,22.60) scale(0.955,1)"><text text-anchor="end" font-size="10.0" >200</text></g><g transform="translate(34.10,60.32) scale(0.955,1)"><text text-anchor="end" font-size="10.0" >100</text></g><g transform="translate(34.10,98.04) scale(0.955,1)"><text text-anchor="end" font-size="10.0" >0</text></g><g transform="translate(34.10,135.76) scale(0.955,1)"><text text-anchor="end" font-size="10.0" >-100</text></g><g transform="translate(34.10,173.48) scale(0.955,1)"><text text-anchor="end" font-size="10.0" >-200</text></g><g transform="translate(34.10,211.20) scale(0.955,1)"><text text-anchor="end" font-size="10.0" >-300</text></g><g transform="translate(41.60,221.40) scale(0.955,1)"><text text-anchor="middle" font-size="10.0" >0</text></g><g transform="translate(75.79,221.40) scale(0.955,1)"><text text-anchor="middle" font-size="10.0" >50</text></g><g transform="translate(109.98,221.40) scale(0.955,1)"><text text-anchor="middle" font-size="10.0" >100</text></g><g transform="translate(144.17,221.40) scale(0.955,1)"><text text-anchor="middle" font-size="10.0" >150</text></g><g transform="translate(178.36,221.40) scale(0.955,1)"><text text-anchor="middle" font-size="10.0" >200</text></g><g transform="translate(212.54,221.40) scale(0.955,1)"><text text-anchor="middle" font-size="10.0" >250</text></g><g transform="translate(246.73,221.40) scale(0.955,1)"><text text-anchor="middle" font-size="10.0" >300</text></g><g transform="translate(280.92,221.40) scale(0.955,1)"><text text-anchor="middle" font-size="10.0" >350</text></g><g transform="translate(315.11,221.40) scale(0.955,1)"><text text-anchor="middle" font-size="10.0" >400</text></g><g transform="translate(349.30,221.40) scale(0.955,1)"><text text-anchor="middle" font-size="10.0" >450</text></g><g transform="translate(193.65,235.60) scale(0.96,1)"><text text-anchor="middle" font-size="10.0" >JD - 2457767</text></g><g transform="translate(15.8,112.7) rotate(-90) scale(0.96,1)"><text text-anchor="middle" font-size="9.7">RV (ms<tspan dy="-4.5" font-size="6.3">-1</tspan><tspan dy="4.5">)</tspan></text></g><path d="M41.40,143.00V163.00M40.00,143.00h2.8M40.00,163.00h2.8" stroke="#e0a8a8" stroke-width="0.9" fill="none"/><path d="M60.60,144.40V160.40M59.20,144.40h2.8M59.20,160.40h2.8" stroke="#e0a8a8" stroke-width="0.9" fill="none"/><path d="M65.50,126.60V142.60M64.10,126.60h2.8M64.10,142.60h2.8" stroke="#e0a8a8" stroke-width="0.9" fill="none"/><path d="M71.80,117.50V133.50M70.40,117.50h2.8M70.40,133.50h2.8" stroke="#e0a8a8" stroke-width="0.9" fill="none"/><path d="M69.50,150.10V166.10M68.10,150.10h2.8M68.10,166.10h2.8" stroke="#e0a8a8" stroke-width="0.9" fill="none"/><path d="M73.50,150.70V166.70M72.10,150.70h2.8M72.10,166.70h2.8" stroke="#e0a8a8" stroke-width="0.9" fill="none"/><path d="M63.20,157.70V175.70M61.80,157.70h2.8M61.80,175.70h2.8" stroke="#e0a8a8" stroke-width="0.9" fill="none"/><path d="M71.20,157.70V175.70M69.80,157.70h2.8M69.80,175.70h2.8" stroke="#e0a8a8" stroke-width="0.9" fill="none"/><path d="M83.30,101.50V117.50M81.90,101.50h2.8M81.90,117.50h2.8" stroke="#e0a8a8" stroke-width="0.9" fill="none"/><path d="M86.70,96.90V112.90M85.30,96.90h2.8M85.30,112.90h2.8" stroke="#e0a8a8" stroke-width="0.9" fill="none"/><path d="M83.30,110.10V126.10M81.90,110.10h2.8M81.90,126.10h2.8" stroke="#e0a8a8" stroke-width="0.9" fill="none"/><path d="M92.80,109.70V125.70M91.40,109.70h2.8M91.40,125.70h2.8" stroke="#e0a8a8" stroke-width="0.9" fill="none"/><path d="M87.40,117.00V133.00M86.00,117.00h2.8M86.00,133.00h2.8" stroke="#e0a8a8" stroke-width="0.9" fill="none"/><path d="M88.20,129.70V147.70M86.80,129.70h2.8M86.80,147.70h2.8" stroke="#e0a8a8" stroke-width="0.9" fill="none"/><path d="M93.60,127.80V143.80M92.20,127.80h2.8M92.20,143.80h2.8" stroke="#e0a8a8" stroke-width="0.9" fill="none"/><path d="M133.10,80.70V96.70M131.70,80.70h2.8M131.70,96.70h2.8" stroke="#e0a8a8" stroke-width="0.9" fill="none"/><path d="M139.00,76.00V92.00M137.60,76.00h2.8M137.60,92.00h2.8" stroke="#e0a8a8" stroke-width="0.9" fill="none"/><path d="M136.30,66.80V84.80M134.90,66.80h2.8M134.90,84.80h2.8" stroke="#e0a8a8" stroke-width="0.9" fill="none"/><path d="M140.50,91.20V107.20M139.10,91.20h2.8M139.10,107.20h2.8" stroke="#e0a8a8" stroke-width="0.9" fill="none"/><path d="M141.80,95.90V111.90M140.40,95.90h2.8M140.40,111.90h2.8" stroke="#e0a8a8" stroke-width="0.9" fill="none"/><path d="M137.80,104.60V120.60M136.40,104.60h2.8M136.40,120.60h2.8" stroke="#e0a8a8" stroke-width="0.9" fill="none"/><path d="M140.20,112.00V130.00M138.80,112.00h2.8M138.80,130.00h2.8" stroke="#e0a8a8" stroke-width="0.9" fill="none"/><path d="M135.10,117.00V135.00M133.70,117.00h2.8M133.70,135.00h2.8" stroke="#e0a8a8" stroke-width="0.9" fill="none"/><path d="M163.00,65.00V85.00M161.60,65.00h2.8M161.60,85.00h2.8" stroke="#e0a8a8" stroke-width="0.9" fill="none"/><path d="M165.00,64.00V84.00M163.60,64.00h2.8M163.60,84.00h2.8" stroke="#e0a8a8" stroke-width="0.9" fill="none"/><path d="M161.20,92.00V108.00M159.80,92.00h2.8M159.80,108.00h2.8" stroke="#e0a8a8" stroke-width="0.9" fill="none"/><path d="M165.40,94.50V110.50M164.00,94.50h2.8M164.00,110.50h2.8" stroke="#e0a8a8" stroke-width="0.9" fill="none"/><path d="M162.40,99.60V115.60M161.00,99.60h2.8M161.00,115.60h2.8" stroke="#e0a8a8" stroke-width="0.9" fill="none"/><path d="M162.00,116.90V132.90M160.60,116.90h2.8M160.60,132.90h2.8" stroke="#e0a8a8" stroke-width="0.9" fill="none"/><path d="M175.40,49.30V69.30M174.00,49.30h2.8M174.00,69.30h2.8" stroke="#e0a8a8" stroke-width="0.9" fill="none"/><path d="M181.00,50.40V72.40M179.60,50.40h2.8M179.60,72.40h2.8" stroke="#e0a8a8" stroke-width="0.9" fill="none"/><path d="M182.60,79.40V105.40M181.20,79.40h2.8M181.20,105.40h2.8" stroke="#e0a8a8" stroke-width="0.9" fill="none"/><path d="M187.30,81.30V101.30M185.90,81.30h2.8M185.90,101.30h2.8" stroke="#e0a8a8" stroke-width="0.9" fill="none"/><path d="M186.50,89.10V105.10M185.10,89.10h2.8M185.10,105.10h2.8" stroke="#e0a8a8" stroke-width="0.9" fill="none"/><path d="M176.70,107.50V125.50M175.30,107.50h2.8M175.30,125.50h2.8" stroke="#e0a8a8" stroke-width="0.9" fill="none"/><path d="M188.20,108.00V124.00M186.80,108.00h2.8M186.80,124.00h2.8" stroke="#e0a8a8" stroke-width="0.9" fill="none"/><path d="M138.20,111.30V129.30M136.80,111.30h2.8M136.80,129.30h2.8" stroke="#e0a8a8" stroke-width="0.9" fill="none"/><path d="M188.30,84.60V102.60M186.90,84.60h2.8M186.90,102.60h2.8" stroke="#e0a8a8" stroke-width="0.9" fill="none"/><path d="M274.70,79.90V95.90M273.30,79.90h2.8M273.30,95.90h2.8" stroke="#e0a8a8" stroke-width="0.9" fill="none"/><path d="M276.70,90.00V106.00M275.30,90.00h2.8M275.30,106.00h2.8" stroke="#e0a8a8" stroke-width="0.9" fill="none"/><path d="M265.80,98.20V116.20M264.40,98.20h2.8M264.40,116.20h2.8" stroke="#e0a8a8" stroke-width="0.9" fill="none"/><path d="M277.60,99.60V117.60M276.20,99.60h2.8M276.20,117.60h2.8" stroke="#e0a8a8" stroke-width="0.9" fill="none"/><path d="M296.40,58.70V76.70M295.00,58.70h2.8M295.00,76.70h2.8" stroke="#e0a8a8" stroke-width="0.9" fill="none"/><path d="M299.60,72.80V88.80M298.20,72.80h2.8M298.20,88.80h2.8" stroke="#e0a8a8" stroke-width="0.9" fill="none"/><path d="M313.60,71.30V89.30M312.20,71.30h2.8M312.20,89.30h2.8" stroke="#e0a8a8" stroke-width="0.9" fill="none"/><path d="M294.20,81.90V97.90M292.80,81.90h2.8M292.80,97.90h2.8" stroke="#e0a8a8" stroke-width="0.9" fill="none"/><path d="M292.60,89.10V105.10M291.20,89.10h2.8M291.20,105.10h2.8" stroke="#e0a8a8" stroke-width="0.9" fill="none"/><path d="M298.40,92.50V108.50M297.00,92.50h2.8M297.00,108.50h2.8" stroke="#e0a8a8" stroke-width="0.9" fill="none"/><path d="M301.30,98.40V114.40M299.90,98.40h2.8M299.90,114.40h2.8" stroke="#e0a8a8" stroke-width="0.9" fill="none"/><path d="M309.40,97.90V115.90M308.00,97.90h2.8M308.00,115.90h2.8" stroke="#e0a8a8" stroke-width="0.9" fill="none"/><path d="M316.10,90.70V108.70M314.70,90.70h2.8M314.70,108.70h2.8" stroke="#e0a8a8" stroke-width="0.9" fill="none"/><path d="M303.50,104.30V120.30M302.10,104.30h2.8M302.10,120.30h2.8" stroke="#e0a8a8" stroke-width="0.9" fill="none"/><path d="M298.10,114.70V130.70M296.70,114.70h2.8M296.70,130.70h2.8" stroke="#e0a8a8" stroke-width="0.9" fill="none"/><path d="M336.80,89.80V107.80M335.40,89.80h2.8M335.40,107.80h2.8" stroke="#e0a8a8" stroke-width="0.9" fill="none"/><path d="M66.00,121.70V137.70M64.60,121.70h2.8M64.60,137.70h2.8" stroke="#a8a8e8" stroke-width="0.9" fill="none"/><path d="M67.00,154.10V170.10M65.60,154.10h2.8M65.60,170.10h2.8" stroke="#a8a8e8" stroke-width="0.9" fill="none"/><path d="M67.40,157.90V177.90M66.00,157.90h2.8M66.00,177.90h2.8" stroke="#a8a8e8" stroke-width="0.9" fill="none"/><path d="M41.40,150.00L44.90,155.45L37.90,155.45Z" fill="#8b0000"/><path d="M60.60,149.40L64.10,154.85L57.10,154.85Z" fill="#8b0000"/><path d="M65.50,131.60L69.00,137.05L62.00,137.05Z" fill="#8b0000"/><path d="M71.80,122.50L75.30,127.95L68.30,127.95Z" fill="#8b0000"/><path d="M69.50,155.10L73.00,160.55L66.00,160.55Z" fill="#8b0000"/><path d="M73.50,155.70L77.00,161.15L70.00,161.15Z" fill="#8b0000"/><path d="M63.20,163.70L66.70,169.15L59.70,169.15Z" fill="#8b0000"/><path d="M71.20,163.70L74.70,169.15L67.70,169.15Z" fill="#8b0000"/><path d="M83.30,106.50L86.80,111.95L79.80,111.95Z" fill="#8b0000"/><path d="M86.70,101.90L90.20,107.35L83.20,107.35Z" fill="#8b0000"/><path d="M83.30,115.10L86.80,120.55L79.80,120.55Z" fill="#8b0000"/><path d="M92.80,114.70L96.30,120.15L89.30,120.15Z" fill="#8b0000"/><path d="M87.40,122.00L90.90,127.45L83.90,127.45Z" fill="#8b0000"/><path d="M88.20,135.70L91.70,141.15L84.70,141.15Z" fill="#8b0000"/><path d="M93.60,132.80L97.10,138.25L90.10,138.25Z" fill="#8b0000"/><path d="M133.10,85.70L136.60,91.15L129.60,91.15Z" fill="#8b0000"/><path d="M139.00,81.00L142.50,86.45L135.50,86.45Z" fill="#8b0000"/><path d="M136.30,72.80L139.80,78.25L132.80,78.25Z" fill="#8b0000"/><path d="M140.50,96.20L144.00,101.65L137.00,101.65Z" fill="#8b0000"/><path d="M141.80,100.90L145.30,106.35L138.30,106.35Z" fill="#8b0000"/><path d="M137.80,109.60L141.30,115.05L134.30,115.05Z" fill="#8b0000"/><path d="M140.20,118.00L143.70,123.45L136.70,123.45Z" fill="#8b0000"/><path d="M135.10,123.00L138.60,128.45L131.60,128.45Z" fill="#8b0000"/><path d="M163.00,72.00L166.50,77.45L159.50,77.45Z" fill="#8b0000"/><path d="M165.00,71.00L168.50,76.45L161.50,76.45Z" fill="#8b0000"/><path d="M161.20,97.00L164.70,102.45L157.70,102.45Z" fill="#8b0000"/><path d="M165.40,99.50L168.90,104.95L161.90,104.95Z" fill="#8b0000"/><path d="M162.40,104.60L165.90,110.05L158.90,110.05Z" fill="#8b0000"/><path d="M162.00,121.90L165.50,127.35L158.50,127.35Z" fill="#8b0000"/><path d="M175.40,56.30L178.90,61.75L171.90,61.75Z" fill="#8b0000"/><path d="M181.00,58.40L184.50,63.85L177.50,63.85Z" fill="#8b0000"/><path d="M182.60,89.40L186.10,94.85L179.10,94.85Z" fill="#8b0000"/><path d="M187.30,88.30L190.80,93.75L183.80,93.75Z" fill="#8b0000"/><path d="M186.50,94.10L190.00,99.55L183.00,99.55Z" fill="#8b0000"/><path d="M176.70,113.50L180.20,118.95L173.20,118.95Z" fill="#8b0000"/><path d="M188.20,113.00L191.70,118.45L184.70,118.45Z" fill="#8b0000"/><path d="M138.20,117.30L141.70,122.75L134.70,122.75Z" fill="#8b0000"/><path d="M188.30,90.60L191.80,96.05L184.80,96.05Z" fill="#8b0000"/><path d="M274.70,84.90L278.20,90.35L271.20,90.35Z" fill="#8b0000"/><path d="M276.70,95.00L280.20,100.45L273.20,100.45Z" fill="#8b0000"/><path d="M265.80,104.20L269.30,109.65L262.30,109.65Z" fill="#8b0000"/><path d="M277.60,105.60L281.10,111.05L274.10,111.05Z" fill="#8b0000"/><path d="M296.40,64.70L299.90,70.15L292.90,70.15Z" fill="#8b0000"/><path d="M299.60,77.80L303.10,83.25L296.10,83.25Z" fill="#8b0000"/><path d="M313.60,77.30L317.10,82.75L310.10,82.75Z" fill="#8b0000"/><path d="M294.20,86.90L297.70,92.35L290.70,92.35Z" fill="#8b0000"/><path d="M292.60,94.10L296.10,99.55L289.10,99.55Z" fill="#8b0000"/><path d="M298.40,97.50L301.90,102.95L294.90,102.95Z" fill="#8b0000"/><path d="M301.30,103.40L304.80,108.85L297.80,108.85Z" fill="#8b0000"/><path d="M309.40,103.90L312.90,109.35L305.90,109.35Z" fill="#8b0000"/><path d="M316.10,96.70L319.60,102.15L312.60,102.15Z" fill="#8b0000"/><path d="M303.50,109.30L307.00,114.75L300.00,114.75Z" fill="#8b0000"/><path d="M298.10,119.70L301.60,125.15L294.60,125.15Z" fill="#8b0000"/><path d="M336.80,95.80L340.30,101.25L333.30,101.25Z" fill="#8b0000"/><circle cx="66.00" cy="129.70" r="3.5" fill="#00008b"/><circle cx="67.00" cy="162.10" r="3.5" fill="#00008b"/><circle cx="67.40" cy="167.90" r="3.5" fill="#00008b"/><g transform="translate(42.60,30.40) scale(0.98,1)"><text text-anchor="start" font-size="10.0" >FEROS</text></g><g transform="translate(42.40,40.50) scale(0.98,1)"><text text-anchor="start" font-size="10.0" >HARPS</text></g><path d="M81.3,26.9H108.7M81.3,25.5v2.8M108.7,25.5v2.8" stroke="#e0a8a8" stroke-width="0.9" fill="none"/><path d="M95.20,23.40L98.70,28.85L91.70,28.85Z" fill="#8b0000"/><path d="M81.3,37H108.7M81.3,35.6v2.8M108.7,35.6v2.8" stroke="#a8a8e8" stroke-width="0.9" fill="none"/><circle cx="95.20" cy="37.00" r="3.5" fill="#00008b"/><polyline points="40.50,316.89 41.01,317.24 41.52,317.60 42.04,317.96 42.55,318.33 43.06,318.69 43.57,319.06 44.08,319.44 44.60,319.81 45.11,320.19 45.62,320.57 46.13,320.96 46.64,321.34 47.16,321.73 47.67,322.12 48.18,322.52 48.69,322.91 49.20,323.31 49.72,323.71 50.23,324.11 50.74,324.52 51.25,324.92 51.76,325.33 52.28,325.74 52.79,326.16 53.30,326.57 53.81,326.99 54.32,327.40 54.84,327.82 55.35,328.24 55.86,328.66 56.37,329.09 56.88,329.51 57.40,329.94 57.91,330.37 58.42,330.79 58.93,331.22 59.44,331.65 59.96,332.08 60.47,332.52 60.98,332.95 61.49,333.38 62.00,333.82 62.52,334.25 63.03,334.68 63.54,335.12 64.05,335.56 64.56,335.99 65.08,336.43 65.59,336.86 66.10,337.30 66.61,337.74 67.12,338.17 67.64,338.61 68.15,339.04 68.66,339.48 69.17,339.92 69.68,340.35 70.20,340.78 70.71,341.22 71.22,341.65 71.73,342.08 72.24,342.52 72.76,342.95 73.27,343.38 73.78,343.81 74.29,344.23 74.80,344.66 75.32,345.09 75.83,345.51 76.34,345.94 76.85,346.36 77.36,346.78 77.88,347.20 78.39,347.61 78.90,348.03 79.41,348.44 79.92,348.86 80.44,349.27 80.95,349.68 81.46,350.08 81.97,350.49 82.48,350.89 83.00,351.29 83.51,351.69 84.02,352.08 84.53,352.48 85.04,352.87 85.56,353.26 86.07,353.64 86.58,354.03 87.09,354.41 87.60,354.79 88.12,355.16 88.63,355.54 89.14,355.91 89.65,356.27 90.16,356.64 90.68,357.00 91.19,357.36 91.70,357.71 92.21,358.06 92.72,358.41 93.24,358.75 93.75,359.10 94.26,359.43 94.77,359.77 95.28,360.10 95.80,360.43 96.31,360.75 96.82,361.07 97.33,361.39 97.84,361.70 98.36,362.01 98.87,362.31 99.38,362.61 99.89,362.91 100.40,363.20 100.92,363.49 101.43,363.77 101.94,364.05 102.45,364.33 102.96,364.60 103.48,364.87 103.99,365.13 104.50,365.39 105.01,365.65 105.52,365.90 106.04,366.14 106.55,366.38 107.06,366.62 107.57,366.85 108.08,367.08 108.60,367.30 109.11,367.52 109.62,367.73 110.13,367.94 110.64,368.14 111.16,368.34 111.67,368.53 112.18,368.72 112.69,368.90 113.20,369.08 113.72,369.25 114.23,369.42 114.74,369.58 115.25,369.74 115.76,369.90 116.28,370.04 116.79,370.19 117.30,370.32 117.81,370.46 118.32,370.58 118.84,370.70 119.35,370.82 119.86,370.93 120.37,371.04 120.88,371.14 121.40,371.23 121.91,371.32 122.42,371.41 122.93,371.49 123.44,371.56 123.96,371.63 124.47,371.69 124.98,371.75 125.49,371.80 126.00,371.85 126.52,371.89 127.03,371.92 127.54,371.95 128.05,371.98 128.56,372.00 129.08,372.01 129.59,372.02 130.10,372.02 130.61,372.02 131.12,372.01 131.64,372.00 132.15,371.98 132.66,371.95 133.17,371.92 133.68,371.89 134.20,371.85 134.71,371.80 135.22,371.75 135.73,371.69 136.24,371.63 136.76,371.56 137.27,371.49 137.78,371.41 138.29,371.32 138.80,371.23 139.32,371.14 139.83,371.04 140.34,370.93 140.85,370.82 141.36,370.70 141.88,370.58 142.39,370.46 142.90,370.32 143.41,370.19 143.92,370.04 144.44,369.90 144.95,369.74 145.46,369.58 145.97,369.42 146.48,369.25 147.00,369.08 147.51,368.90 148.02,368.72 148.53,368.53 149.04,368.34 149.56,368.14 150.07,367.94 150.58,367.73 151.09,367.52 151.60,367.30 152.12,367.08 152.63,366.85 153.14,366.62 153.65,366.38 154.16,366.14 154.68,365.90 155.19,365.65 155.70,365.39 156.21,365.13 156.72,364.87 157.24,364.60 157.75,364.33 158.26,364.05 158.77,363.77 159.28,363.49 159.80,363.20 160.31,362.91 160.82,362.61 161.33,362.31 161.84,362.01 162.36,361.70 162.87,361.39 163.38,361.07 163.89,360.75 164.40,360.43 164.92,360.10 165.43,359.77 165.94,359.43 166.45,359.10 166.96,358.75 167.48,358.41 167.99,358.06 168.50,357.71 169.01,357.36 169.52,357.00 170.04,356.64 170.55,356.27 171.06,355.91 171.57,355.54 172.08,355.16 172.60,354.79 173.11,354.41 173.62,354.03 174.13,353.64 174.64,353.26 175.16,352.87 175.67,352.48 176.18,352.08 176.69,351.69 177.20,351.29 177.72,350.89 178.23,350.49 178.74,350.08 179.25,349.68 179.76,349.27 180.28,348.86 180.79,348.44 181.30,348.03 181.81,347.61 182.32,347.20 182.84,346.78 183.35,346.36 183.86,345.94 184.37,345.51 184.88,345.09 185.40,344.66 185.91,344.23 186.42,343.81 186.93,343.38 187.44,342.95 187.96,342.52 188.47,342.08 188.98,341.65 189.49,341.22 190.00,340.78 190.52,340.35 191.03,339.92 191.54,339.48 192.05,339.04 192.56,338.61 193.08,338.17 193.59,337.74 194.10,337.30 194.61,336.86 195.12,336.43 195.64,335.99 196.15,335.56 196.66,335.12 197.17,334.68 197.68,334.25 198.20,333.82 198.71,333.38 199.22,332.95 199.73,332.52 200.24,332.08 200.76,331.65 201.27,331.22 201.78,330.79 202.29,330.37 202.80,329.94 203.32,329.51 203.83,329.09 204.34,328.66 204.85,328.24 205.36,327.82 205.88,327.40 206.39,326.99 206.90,326.57 207.41,326.16 207.92,325.74 208.44,325.33 208.95,324.92 209.46,324.52 209.97,324.11 210.48,323.71 211.00,323.31 211.51,322.91 212.02,322.52 212.53,322.12 213.04,321.73 213.56,321.34 214.07,320.96 214.58,320.57 215.09,320.19 215.60,319.81 216.12,319.44 216.63,319.06 217.14,318.69 217.65,318.33 218.16,317.96 218.68,317.60 219.19,317.24 219.70,316.89 220.21,316.54 220.72,316.19 221.24,315.85 221.75,315.50 222.26,315.17 222.77,314.83 223.28,314.50 223.80,314.17 224.31,313.85 224.82,313.53 225.33,313.21 225.84,312.90 226.36,312.59 226.87,312.29 227.38,311.99 227.89,311.69 228.40,311.40 228.92,311.11 229.43,310.83 229.94,310.55 230.45,310.27 230.96,310.00 231.48,309.73 231.99,309.47 232.50,309.21 233.01,308.95 233.52,308.70 234.04,308.46 234.55,308.22 235.06,307.98 235.57,307.75 236.08,307.52 236.60,307.30 237.11,307.08 237.62,306.87 238.13,306.66 238.64,306.46 239.16,306.26 239.67,306.07 240.18,305.88 240.69,305.70 241.20,305.52 241.72,305.35 242.23,305.18 242.74,305.02 243.25,304.86 243.76,304.70 244.28,304.56 244.79,304.41 245.30,304.28 245.81,304.14 246.32,304.02 246.84,303.90 247.35,303.78 247.86,303.67 248.37,303.56 248.88,303.46 249.40,303.37 249.91,303.28 250.42,303.19 250.93,303.11 251.44,303.04 251.96,302.97 252.47,302.91 252.98,302.85 253.49,302.80 254.00,302.75 254.52,302.71 255.03,302.68 255.54,302.65 256.05,302.62 256.56,302.60 257.08,302.59 257.59,302.58 258.10,302.58 258.61,302.58 259.12,302.59 259.64,302.60 260.15,302.62 260.66,302.65 261.17,302.68 261.68,302.71 262.20,302.75 262.71,302.80 263.22,302.85 263.73,302.91 264.24,302.97 264.76,303.04 265.27,303.11 265.78,303.19 266.29,303.28 266.80,303.37 267.32,303.46 267.83,303.56 268.34,303.67 268.85,303.78 269.36,303.90 269.88,304.02 270.39,304.14 270.90,304.28 271.41,304.41 271.92,304.56 272.44,304.70 272.95,304.86 273.46,305.02 273.97,305.18 274.48,305.35 275.00,305.52 275.51,305.70 276.02,305.88 276.53,306.07 277.04,306.26 277.56,306.46 278.07,306.66 278.58,306.87 279.09,307.08 279.60,307.30 280.12,307.52 280.63,307.75 281.14,307.98 281.65,308.22 282.16,308.46 282.68,308.70 283.19,308.95 283.70,309.21 284.21,309.47 284.72,309.73 285.24,310.00 285.75,310.27 286.26,310.55 286.77,310.83 287.28,311.11 287.80,311.40 288.31,311.69 288.82,311.99 289.33,312.29 289.84,312.59 290.36,312.90 290.87,313.21 291.38,313.53 291.89,313.85 292.40,314.17 292.92,314.50 293.43,314.83 293.94,315.17 294.45,315.50 294.96,315.85 295.48,316.19 295.99,316.54 296.50,316.89 297.01,317.24 297.52,317.60 298.04,317.96 298.55,318.33 299.06,318.69 299.57,319.06 300.08,319.44 300.60,319.81 301.11,320.19 301.62,320.57 302.13,320.96 302.64,321.34 303.16,321.73 303.67,322.12 304.18,322.52 304.69,322.91 305.20,323.31 305.72,323.71 306.23,324.11 306.74,324.52 307.25,324.92 307.76,325.33 308.28,325.74 308.79,326.16 309.30,326.57 309.81,326.99 310.32,327.40 310.84,327.82 311.35,328.24 311.86,328.66 312.37,329.09 312.88,329.51 313.40,329.94 313.91,330.37 314.42,330.79 314.93,331.22 315.44,331.65 315.96,332.08 316.47,332.52 316.98,332.95 317.49,333.38 318.00,333.82 318.52,334.25 319.03,334.68 319.54,335.12 320.05,335.56 320.56,335.99 321.08,336.43 321.59,336.86 322.10,337.30 322.61,337.74 323.12,338.17 323.64,338.61 324.15,339.04 324.66,339.48 325.17,339.92 325.68,340.35 326.20,340.78 326.71,341.22 327.22,341.65 327.73,342.08 328.24,342.52 328.76,342.95 329.27,343.38 329.78,343.81 330.29,344.23 330.80,344.66 331.32,345.09 331.83,345.51 332.34,345.94 332.85,346.36 333.36,346.78 333.88,347.20 334.39,347.61 334.90,348.03 335.41,348.44 335.92,348.86 336.44,349.27 336.95,349.68 337.46,350.08 337.97,350.49 338.48,350.89 339.00,351.29 339.51,351.69 340.02,352.08 340.53,352.48 341.04,352.87 341.56,353.26 342.07,353.64 342.58,354.03 343.09,354.41 343.60,354.79 344.12,355.16 344.63,355.54 345.14,355.91 345.65,356.27 346.16,356.64 346.68,357.00 347.19,357.36 347.70,357.71" fill="none" stroke="#555" stroke-width="0.8"/><rect x="40.5" y="242.6" width="307.50" height="189.40" fill="none" stroke="#6e6e6e" stroke-width="1"/><path d="M66.10,432.00v-3.5M66.10,242.60v3.5M117.30,432.00v-3.5M117.30,242.60v3.5M168.50,432.00v-3.5M168.50,242.60v3.5M219.70,432.00v-3.5M219.70,242.60v3.5M270.90,432.00v-3.5M270.90,242.60v3.5M322.10,432.00v-3.5M322.10,242.60v3.5M40.50,274.17h3.5M348.00,274.17h-3.5M40.50,305.73h3.5M348.00,305.73h-3.5M40.50,337.30h3.5M348.00,337.30h-3.5M40.50,368.87h3.5M348.00,368.87h-3.5M40.50,400.43h3.5M348.00,400.43h-3.5" stroke="#6e6e6e" stroke-width="1" fill="none"/><g transform="translate(34.10,246.20) scale(0.955,1)"><text text-anchor="end" font-size="10.0" >150</text></g><g transform="translate(34.10,277.77) scale(0.955,1)"><text text-anchor="end" font-size="10.0" >100</text></g><g transform="translate(34.10,309.33) scale(0.955,1)"><text text-anchor="end" font-size="10.0" >50</text></g><g transform="translate(34.10,340.90) scale(0.955,1)"><text text-anchor="end" font-size="10.0" >0</text></g><g transform="translate(34.10,372.47) scale(0.955,1)"><text text-anchor="end" font-size="10.0" >-50</text></g><g transform="translate(34.10,404.03) scale(0.955,1)"><text text-anchor="end" font-size="10.0" >-100</text></g><g transform="translate(34.10,435.60) scale(0.955,1)"><text text-anchor="end" font-size="10.0" >-150</text></g><g transform="translate(15.8,337.3) rotate(-90) scale(0.96,1)"><text text-anchor="middle" font-size="9.7">RV (ms<tspan dy="-4.5" font-size="6.3">-1</tspan><tspan dy="4.5">)</tspan></text></g><path d="M68.30,325.50V353.50M66.90,325.50h2.8M66.90,353.50h2.8" stroke="#e0a8a8" stroke-width="0.9" fill="none"/><path d="M77.50,317.60V345.60M76.10,317.60h2.8M76.10,345.60h2.8" stroke="#e0a8a8" stroke-width="0.9" fill="none"/><path d="M80.90,331.40V359.40M79.50,331.40h2.8M79.50,359.40h2.8" stroke="#e0a8a8" stroke-width="0.9" fill="none"/><path d="M81.40,348.50V378.50M80.00,348.50h2.8M80.00,378.50h2.8" stroke="#e0a8a8" stroke-width="0.9" fill="none"/><path d="M89.80,343.10V371.10M88.40,343.10h2.8M88.40,371.10h2.8" stroke="#e0a8a8" stroke-width="0.9" fill="none"/><path d="M93.40,353.40V379.40M92.00,353.40h2.8M92.00,379.40h2.8" stroke="#e0a8a8" stroke-width="0.9" fill="none"/><path d="M94.70,361.60V389.60M93.30,361.60h2.8M93.30,389.60h2.8" stroke="#e0a8a8" stroke-width="0.9" fill="none"/><path d="M100.90,301.80V337.80M99.50,301.80h2.8M99.50,337.80h2.8" stroke="#e0a8a8" stroke-width="0.9" fill="none"/><path d="M113.00,346.80V376.80M111.60,346.80h2.8M111.60,376.80h2.8" stroke="#e0a8a8" stroke-width="0.9" fill="none"/><path d="M119.40,353.90V383.90M118.00,353.90h2.8M118.00,383.90h2.8" stroke="#e0a8a8" stroke-width="0.9" fill="none"/><path d="M116.00,371.20V399.20M114.60,371.20h2.8M114.60,399.20h2.8" stroke="#e0a8a8" stroke-width="0.9" fill="none"/><path d="M117.70,384.80V416.80M116.30,384.80h2.8M116.30,416.80h2.8" stroke="#e0a8a8" stroke-width="0.9" fill="none"/><path d="M118.00,386.00V418.00M116.60,386.00h2.8M116.60,418.00h2.8" stroke="#e0a8a8" stroke-width="0.9" fill="none"/><path d="M132.40,341.80V371.80M131.00,341.80h2.8M131.00,371.80h2.8" stroke="#e0a8a8" stroke-width="0.9" fill="none"/><path d="M134.50,362.60V392.60M133.10,362.60h2.8M133.10,392.60h2.8" stroke="#e0a8a8" stroke-width="0.9" fill="none"/><path d="M134.50,367.40V397.40M133.10,367.40h2.8M133.10,397.40h2.8" stroke="#e0a8a8" stroke-width="0.9" fill="none"/><path d="M135.00,380.80V410.80M133.60,380.80h2.8M133.60,410.80h2.8" stroke="#e0a8a8" stroke-width="0.9" fill="none"/><path d="M136.20,381.40V411.40M134.80,381.40h2.8M134.80,411.40h2.8" stroke="#e0a8a8" stroke-width="0.9" fill="none"/><path d="M153.10,364.70V392.70M151.70,364.70h2.8M151.70,392.70h2.8" stroke="#e0a8a8" stroke-width="0.9" fill="none"/><path d="M155.10,370.90V398.90M153.70,370.90h2.8M153.70,398.90h2.8" stroke="#e0a8a8" stroke-width="0.9" fill="none"/><path d="M156.80,334.80V382.80M155.40,334.80h2.8M155.40,382.80h2.8" stroke="#e0a8a8" stroke-width="0.9" fill="none"/><path d="M160.60,347.40V385.40M159.20,347.40h2.8M159.20,385.40h2.8" stroke="#e0a8a8" stroke-width="0.9" fill="none"/><path d="M166.80,372.00V400.00M165.40,372.00h2.8M165.40,400.00h2.8" stroke="#e0a8a8" stroke-width="0.9" fill="none"/><path d="M175.30,311.00V337.00M173.90,311.00h2.8M173.90,337.00h2.8" stroke="#e0a8a8" stroke-width="0.9" fill="none"/><path d="M173.60,336.40V364.40M172.20,336.40h2.8M172.20,364.40h2.8" stroke="#e0a8a8" stroke-width="0.9" fill="none"/><path d="M177.30,342.80V370.80M175.90,342.80h2.8M175.90,370.80h2.8" stroke="#e0a8a8" stroke-width="0.9" fill="none"/><path d="M180.30,352.90V380.90M178.90,352.90h2.8M178.90,380.90h2.8" stroke="#e0a8a8" stroke-width="0.9" fill="none"/><path d="M176.90,360.00V388.00M175.50,360.00h2.8M175.50,388.00h2.8" stroke="#e0a8a8" stroke-width="0.9" fill="none"/><path d="M186.20,341.50V369.50M184.80,341.50h2.8M184.80,369.50h2.8" stroke="#e0a8a8" stroke-width="0.9" fill="none"/><path d="M190.40,338.90V366.90M189.00,338.90h2.8M189.00,366.90h2.8" stroke="#e0a8a8" stroke-width="0.9" fill="none"/><path d="M187.90,344.80V372.80M186.50,344.80h2.8M186.50,372.80h2.8" stroke="#e0a8a8" stroke-width="0.9" fill="none"/><path d="M195.90,353.90V383.90M194.50,353.90h2.8M194.50,383.90h2.8" stroke="#e0a8a8" stroke-width="0.9" fill="none"/><path d="M199.10,305.70V335.70M197.70,305.70h2.8M197.70,335.70h2.8" stroke="#e0a8a8" stroke-width="0.9" fill="none"/><path d="M199.10,330.50V358.50M197.70,330.50h2.8M197.70,358.50h2.8" stroke="#e0a8a8" stroke-width="0.9" fill="none"/><path d="M205.40,293.80V325.80M204.00,293.80h2.8M204.00,325.80h2.8" stroke="#e0a8a8" stroke-width="0.9" fill="none"/><path d="M219.30,301.90V333.90M217.90,301.90h2.8M217.90,333.90h2.8" stroke="#e0a8a8" stroke-width="0.9" fill="none"/><path d="M221.80,300.00V330.00M220.40,300.00h2.8M220.40,330.00h2.8" stroke="#e0a8a8" stroke-width="0.9" fill="none"/><path d="M224.90,300.70V330.70M223.50,300.70h2.8M223.50,330.70h2.8" stroke="#e0a8a8" stroke-width="0.9" fill="none"/><path d="M231.90,286.30V314.30M230.50,286.30h2.8M230.50,314.30h2.8" stroke="#e0a8a8" stroke-width="0.9" fill="none"/><path d="M237.80,288.30V316.30M236.40,288.30h2.8M236.40,316.30h2.8" stroke="#e0a8a8" stroke-width="0.9" fill="none"/><path d="M235.30,293.80V321.80M233.90,293.80h2.8M233.90,321.80h2.8" stroke="#e0a8a8" stroke-width="0.9" fill="none"/><path d="M237.80,303.90V331.90M236.40,303.90h2.8M236.40,331.90h2.8" stroke="#e0a8a8" stroke-width="0.9" fill="none"/><path d="M237.80,306.10V334.10M236.40,306.10h2.8M236.40,334.10h2.8" stroke="#e0a8a8" stroke-width="0.9" fill="none"/><path d="M254.60,297.20V325.20M253.20,297.20h2.8M253.20,325.20h2.8" stroke="#e0a8a8" stroke-width="0.9" fill="none"/><path d="M258.00,310.50V340.50M256.60,310.50h2.8M256.60,340.50h2.8" stroke="#e0a8a8" stroke-width="0.9" fill="none"/><path d="M255.80,343.10V371.10M254.40,343.10h2.8M254.40,371.10h2.8" stroke="#e0a8a8" stroke-width="0.9" fill="none"/><path d="M270.10,284.60V312.60M268.70,284.60h2.8M268.70,312.60h2.8" stroke="#e0a8a8" stroke-width="0.9" fill="none"/><path d="M273.50,283.60V317.60M272.10,283.60h2.8M272.10,317.60h2.8" stroke="#e0a8a8" stroke-width="0.9" fill="none"/><path d="M277.40,290.60V320.60M276.00,290.60h2.8M276.00,320.60h2.8" stroke="#e0a8a8" stroke-width="0.9" fill="none"/><path d="M294.80,291.60V319.60M293.40,291.60h2.8M293.40,319.60h2.8" stroke="#e0a8a8" stroke-width="0.9" fill="none"/><path d="M295.80,313.10V341.10M294.40,313.10h2.8M294.40,341.10h2.8" stroke="#e0a8a8" stroke-width="0.9" fill="none"/><path d="M295.80,328.60V358.60M294.40,328.60h2.8M294.40,358.60h2.8" stroke="#e0a8a8" stroke-width="0.9" fill="none"/><path d="M312.50,345.80V375.80M311.10,345.80h2.8M311.10,375.80h2.8" stroke="#e0a8a8" stroke-width="0.9" fill="none"/><path d="M314.10,346.20V376.20M312.70,346.20h2.8M312.70,376.20h2.8" stroke="#e0a8a8" stroke-width="0.9" fill="none"/><path d="M95.30,352.00V378.00M93.90,352.00h2.8M93.90,378.00h2.8" stroke="#a8a8e8" stroke-width="0.9" fill="none"/><path d="M155.90,360.60V390.60M154.50,360.60h2.8M154.50,390.60h2.8" stroke="#a8a8e8" stroke-width="0.9" fill="none"/><path d="M290.30,296.30V324.30M288.90,296.30h2.8M288.90,324.30h2.8" stroke="#a8a8e8" stroke-width="0.9" fill="none"/><path d="M68.30,336.50L71.80,341.95L64.80,341.95Z" fill="#8b0000"/><path d="M77.50,328.60L81.00,334.05L74.00,334.05Z" fill="#8b0000"/><path d="M80.90,342.40L84.40,347.85L77.40,347.85Z" fill="#8b0000"/><path d="M81.40,360.50L84.90,365.95L77.90,365.95Z" fill="#8b0000"/><path d="M89.80,354.10L93.30,359.55L86.30,359.55Z" fill="#8b0000"/><path d="M93.40,363.40L96.90,368.85L89.90,368.85Z" fill="#8b0000"/><path d="M94.70,372.60L98.20,378.05L91.20,378.05Z" fill="#8b0000"/><path d="M100.90,316.80L104.40,322.25L97.40,322.25Z" fill="#8b0000"/><path d="M113.00,358.80L116.50,364.25L109.50,364.25Z" fill="#8b0000"/><path d="M119.40,365.90L122.90,371.35L115.90,371.35Z" fill="#8b0000"/><path d="M116.00,382.20L119.50,387.65L112.50,387.65Z" fill="#8b0000"/><path d="M117.70,397.80L121.20,403.25L114.20,403.25Z" fill="#8b0000"/><path d="M118.00,399.00L121.50,404.45L114.50,404.45Z" fill="#8b0000"/><path d="M132.40,353.80L135.90,359.25L128.90,359.25Z" fill="#8b0000"/><path d="M134.50,374.60L138.00,380.05L131.00,380.05Z" fill="#8b0000"/><path d="M134.50,379.40L138.00,384.85L131.00,384.85Z" fill="#8b0000"/><path d="M135.00,392.80L138.50,398.25L131.50,398.25Z" fill="#8b0000"/><path d="M136.20,393.40L139.70,398.85L132.70,398.85Z" fill="#8b0000"/><path d="M153.10,375.70L156.60,381.15L149.60,381.15Z" fill="#8b0000"/><path d="M155.10,381.90L158.60,387.35L151.60,387.35Z" fill="#8b0000"/><path d="M156.80,355.80L160.30,361.25L153.30,361.25Z" fill="#8b0000"/><path d="M160.60,363.40L164.10,368.85L157.10,368.85Z" fill="#8b0000"/><path d="M166.80,383.00L170.30,388.45L163.30,388.45Z" fill="#8b0000"/><path d="M175.30,321.00L178.80,326.45L171.80,326.45Z" fill="#8b0000"/><path d="M173.60,347.40L177.10,352.85L170.10,352.85Z" fill="#8b0000"/><path d="M177.30,353.80L180.80,359.25L173.80,359.25Z" fill="#8b0000"/><path d="M180.30,363.90L183.80,369.35L176.80,369.35Z" fill="#8b0000"/><path d="M176.90,371.00L180.40,376.45L173.40,376.45Z" fill="#8b0000"/><path d="M186.20,352.50L189.70,357.95L182.70,357.95Z" fill="#8b0000"/><path d="M190.40,349.90L193.90,355.35L186.90,355.35Z" fill="#8b0000"/><path d="M187.90,355.80L191.40,361.25L184.40,361.25Z" fill="#8b0000"/><path d="M195.90,365.90L199.40,371.35L192.40,371.35Z" fill="#8b0000"/><path d="M199.10,317.70L202.60,323.15L195.60,323.15Z" fill="#8b0000"/><path d="M199.10,341.50L202.60,346.95L195.60,346.95Z" fill="#8b0000"/><path d="M205.40,306.80L208.90,312.25L201.90,312.25Z" fill="#8b0000"/><path d="M219.30,314.90L222.80,320.35L215.80,320.35Z" fill="#8b0000"/><path d="M221.80,312.00L225.30,317.45L218.30,317.45Z" fill="#8b0000"/><path d="M224.90,312.70L228.40,318.15L221.40,318.15Z" fill="#8b0000"/><path d="M231.90,297.30L235.40,302.75L228.40,302.75Z" fill="#8b0000"/><path d="M237.80,299.30L241.30,304.75L234.30,304.75Z" fill="#8b0000"/><path d="M235.30,304.80L238.80,310.25L231.80,310.25Z" fill="#8b0000"/><path d="M237.80,314.90L241.30,320.35L234.30,320.35Z" fill="#8b0000"/><path d="M237.80,317.10L241.30,322.55L234.30,322.55Z" fill="#8b0000"/><path d="M254.60,308.20L258.10,313.65L251.10,313.65Z" fill="#8b0000"/><path d="M258.00,322.50L261.50,327.95L254.50,327.95Z" fill="#8b0000"/><path d="M255.80,354.10L259.30,359.55L252.30,359.55Z" fill="#8b0000"/><path d="M270.10,295.60L273.60,301.05L266.60,301.05Z" fill="#8b0000"/><path d="M273.50,297.60L277.00,303.05L270.00,303.05Z" fill="#8b0000"/><path d="M277.40,302.60L280.90,308.05L273.90,308.05Z" fill="#8b0000"/><path d="M294.80,302.60L298.30,308.05L291.30,308.05Z" fill="#8b0000"/><path d="M295.80,324.10L299.30,329.55L292.30,329.55Z" fill="#8b0000"/><path d="M295.80,340.60L299.30,346.05L292.30,346.05Z" fill="#8b0000"/><path d="M312.50,357.80L316.00,363.25L309.00,363.25Z" fill="#8b0000"/><path d="M314.10,358.20L317.60,363.65L310.60,363.65Z" fill="#8b0000"/><circle cx="95.30" cy="365.00" r="3.5" fill="#00008b"/><circle cx="155.90" cy="375.60" r="3.5" fill="#00008b"/><circle cx="290.30" cy="310.30" r="3.5" fill="#00008b"/><path d="M40.5,475.32H348.0" stroke="#333" stroke-width="0.9" stroke-dasharray="1.1 1.15"/><rect x="40.5" y="439.4" width="307.50" height="89.80" fill="none" stroke="#6e6e6e" stroke-width="1"/><path d="M66.10,529.20v-3.5M66.10,439.40v3.5M117.30,529.20v-3.5M117.30,439.40v3.5M168.50,529.20v-3.5M168.50,439.40v3.5M219.70,529.20v-3.5M219.70,439.40v3.5M270.90,529.20v-3.5M270.90,439.40v3.5M322.10,529.20v-3.5M322.10,439.40v3.5M40.50,457.36h3.5M348.00,457.36h-3.5M40.50,475.32h3.5M348.00,475.32h-3.5M40.50,493.28h3.5M348.00,493.28h-3.5M40.50,511.24h3.5M348.00,511.24h-3.5" stroke="#6e6e6e" stroke-width="1" fill="none"/><g transform="translate(34.10,443.00) scale(0.955,1)"><text text-anchor="end" font-size="10.0" >100</text></g><g transform="translate(34.10,460.96) scale(0.955,1)"><text text-anchor="end" font-size="10.0" >50</text></g><g transform="translate(34.10,478.92) scale(0.955,1)"><text text-anchor="end" font-size="10.0" >0</text></g><g transform="translate(34.10,496.88) scale(0.955,1)"><text text-anchor="end" font-size="10.0" >-50</text></g><g transform="translate(34.10,514.84) scale(0.955,1)"><text text-anchor="end" font-size="10.0" >-100</text></g><g transform="translate(34.10,532.80) scale(0.955,1)"><text text-anchor="end" font-size="10.0" >-150</text></g><g transform="translate(10.8,484.4) rotate(-90) scale(0.96,1)"><text text-anchor="middle" font-size="9.7">O-C (ms<tspan dy="-4.5" font-size="6.3">-1</tspan><tspan dy="4.5">)</tspan></text></g><path d="M68.20,467.30V483.30M66.80,467.30h2.8M66.80,483.30h2.8" stroke="#e0a8a8" stroke-width="0.9" fill="none"/><path d="M77.60,458.50V474.50M76.20,458.50h2.8M76.20,474.50h2.8" stroke="#e0a8a8" stroke-width="0.9" fill="none"/><path d="M80.90,464.80V480.80M79.50,464.80h2.8M79.50,480.80h2.8" stroke="#e0a8a8" stroke-width="0.9" fill="none"/><path d="M81.40,474.40V490.40M80.00,474.40h2.8M80.00,490.40h2.8" stroke="#e0a8a8" stroke-width="0.9" fill="none"/><path d="M89.70,467.30V483.30M88.30,467.30h2.8M88.30,483.30h2.8" stroke="#e0a8a8" stroke-width="0.9" fill="none"/><path d="M95.50,474.90V490.90M94.10,474.90h2.8M94.10,490.90h2.8" stroke="#e0a8a8" stroke-width="0.9" fill="none"/><path d="M101.00,439.60V459.60M99.60,439.60h2.8M99.60,459.60h2.8" stroke="#e0a8a8" stroke-width="0.9" fill="none"/><path d="M112.40,462.80V478.80M111.00,462.80h2.8M111.00,478.80h2.8" stroke="#e0a8a8" stroke-width="0.9" fill="none"/><path d="M119.20,465.30V481.30M117.80,465.30h2.8M117.80,481.30h2.8" stroke="#e0a8a8" stroke-width="0.9" fill="none"/><path d="M115.60,474.90V490.90M114.20,474.90h2.8M114.20,490.90h2.8" stroke="#e0a8a8" stroke-width="0.9" fill="none"/><path d="M117.70,484.50V500.50M116.30,484.50h2.8M116.30,500.50h2.8" stroke="#e0a8a8" stroke-width="0.9" fill="none"/><path d="M132.60,457.80V473.80M131.20,457.80h2.8M131.20,473.80h2.8" stroke="#e0a8a8" stroke-width="0.9" fill="none"/><path d="M134.60,471.10V487.10M133.20,471.10h2.8M133.20,487.10h2.8" stroke="#e0a8a8" stroke-width="0.9" fill="none"/><path d="M136.40,479.90V495.90M135.00,479.90h2.8M135.00,495.90h2.8" stroke="#e0a8a8" stroke-width="0.9" fill="none"/><path d="M156.60,464.30V480.30M155.20,464.30h2.8M155.20,480.30h2.8" stroke="#e0a8a8" stroke-width="0.9" fill="none"/><path d="M160.30,468.60V484.60M158.90,468.60h2.8M158.90,484.60h2.8" stroke="#e0a8a8" stroke-width="0.9" fill="none"/><path d="M154.00,473.60V489.60M152.60,473.60h2.8M152.60,489.60h2.8" stroke="#e0a8a8" stroke-width="0.9" fill="none"/><path d="M155.30,477.40V493.40M153.90,477.40h2.8M153.90,493.40h2.8" stroke="#e0a8a8" stroke-width="0.9" fill="none"/><path d="M166.60,482.00V498.00M165.20,482.00h2.8M165.20,498.00h2.8" stroke="#e0a8a8" stroke-width="0.9" fill="none"/><path d="M175.00,450.20V466.20M173.60,450.20h2.8M173.60,466.20h2.8" stroke="#e0a8a8" stroke-width="0.9" fill="none"/><path d="M173.40,465.30V481.30M172.00,465.30h2.8M172.00,481.30h2.8" stroke="#e0a8a8" stroke-width="0.9" fill="none"/><path d="M177.50,469.90V485.90M176.10,469.90h2.8M176.10,485.90h2.8" stroke="#e0a8a8" stroke-width="0.9" fill="none"/><path d="M180.00,476.20V492.20M178.60,476.20h2.8M178.60,492.20h2.8" stroke="#e0a8a8" stroke-width="0.9" fill="none"/><path d="M177.50,479.20V495.20M176.10,479.20h2.8M176.10,495.20h2.8" stroke="#e0a8a8" stroke-width="0.9" fill="none"/><path d="M186.80,473.60V489.60M185.40,473.60h2.8M185.40,489.60h2.8" stroke="#e0a8a8" stroke-width="0.9" fill="none"/><path d="M190.60,473.60V489.60M189.20,473.60h2.8M189.20,489.60h2.8" stroke="#e0a8a8" stroke-width="0.9" fill="none"/><path d="M187.60,476.20V492.20M186.20,476.20h2.8M186.20,492.20h2.8" stroke="#e0a8a8" stroke-width="0.9" fill="none"/><path d="M199.40,459.80V475.80M198.00,459.80h2.8M198.00,475.80h2.8" stroke="#e0a8a8" stroke-width="0.9" fill="none"/><path d="M205.70,456.70V472.70M204.30,456.70h2.8M204.30,472.70h2.8" stroke="#e0a8a8" stroke-width="0.9" fill="none"/><path d="M199.40,473.10V489.10M198.00,473.10h2.8M198.00,489.10h2.8" stroke="#e0a8a8" stroke-width="0.9" fill="none"/><path d="M196.10,485.70V501.70M194.70,485.70h2.8M194.70,501.70h2.8" stroke="#e0a8a8" stroke-width="0.9" fill="none"/><path d="M218.90,467.30V483.30M217.50,467.30h2.8M217.50,483.30h2.8" stroke="#e0a8a8" stroke-width="0.9" fill="none"/><path d="M222.20,467.30V483.30M220.80,467.30h2.8M220.80,483.30h2.8" stroke="#e0a8a8" stroke-width="0.9" fill="none"/><path d="M225.20,467.80V483.80M223.80,467.80h2.8M223.80,483.80h2.8" stroke="#e0a8a8" stroke-width="0.9" fill="none"/><path d="M232.00,461.80V477.80M230.60,461.80h2.8M230.60,477.80h2.8" stroke="#e0a8a8" stroke-width="0.9" fill="none"/><path d="M235.30,466.80V482.80M233.90,466.80h2.8M233.90,482.80h2.8" stroke="#e0a8a8" stroke-width="0.9" fill="none"/><path d="M237.80,465.30V481.30M236.40,465.30h2.8M236.40,481.30h2.8" stroke="#e0a8a8" stroke-width="0.9" fill="none"/><path d="M237.80,473.60V489.60M236.40,473.60h2.8M236.40,489.60h2.8" stroke="#e0a8a8" stroke-width="0.9" fill="none"/><path d="M255.00,472.40V488.40M253.60,472.40h2.8M253.60,488.40h2.8" stroke="#e0a8a8" stroke-width="0.9" fill="none"/><path d="M258.50,480.40V496.40M257.10,480.40h2.8M257.10,496.40h2.8" stroke="#e0a8a8" stroke-width="0.9" fill="none"/><path d="M255.50,498.30V514.30M254.10,498.30h2.8M254.10,514.30h2.8" stroke="#e0a8a8" stroke-width="0.9" fill="none"/><path d="M269.80,464.80V480.80M268.40,464.80h2.8M268.40,480.80h2.8" stroke="#e0a8a8" stroke-width="0.9" fill="none"/><path d="M273.60,464.80V480.80M272.20,464.80h2.8M272.20,480.80h2.8" stroke="#e0a8a8" stroke-width="0.9" fill="none"/><path d="M277.40,466.80V482.80M276.00,466.80h2.8M276.00,482.80h2.8" stroke="#e0a8a8" stroke-width="0.9" fill="none"/><path d="M294.70,461.80V477.80M293.30,461.80h2.8M293.30,477.80h2.8" stroke="#e0a8a8" stroke-width="0.9" fill="none"/><path d="M296.00,473.10V489.10M294.60,473.10h2.8M294.60,489.10h2.8" stroke="#e0a8a8" stroke-width="0.9" fill="none"/><path d="M296.00,482.50V498.50M294.60,482.50h2.8M294.60,498.50h2.8" stroke="#e0a8a8" stroke-width="0.9" fill="none"/><path d="M312.40,484.50V500.50M311.00,484.50h2.8M311.00,500.50h2.8" stroke="#e0a8a8" stroke-width="0.9" fill="none"/><path d="M314.40,484.50V500.50M313.00,484.50h2.8M313.00,500.50h2.8" stroke="#e0a8a8" stroke-width="0.9" fill="none"/><path d="M95.50,469.90V485.90M94.10,469.90h2.8M94.10,485.90h2.8" stroke="#a8a8e8" stroke-width="0.9" fill="none"/><path d="M156.00,473.10V489.10M154.60,473.10h2.8M154.60,489.10h2.8" stroke="#a8a8e8" stroke-width="0.9" fill="none"/><path d="M290.40,466.10V482.10M289.00,466.10h2.8M289.00,482.10h2.8" stroke="#a8a8e8" stroke-width="0.9" fill="none"/><path d="M68.20,472.30L71.70,477.75L64.70,477.75Z" fill="#8b0000"/><path d="M77.60,463.50L81.10,468.95L74.10,468.95Z" fill="#8b0000"/><path d="M80.90,469.80L84.40,475.25L77.40,475.25Z" fill="#8b0000"/><path d="M81.40,479.40L84.90,484.85L77.90,484.85Z" fill="#8b0000"/><path d="M89.70,472.30L93.20,477.75L86.20,477.75Z" fill="#8b0000"/><path d="M95.50,479.90L99.00,485.35L92.00,485.35Z" fill="#8b0000"/><path d="M101.00,446.60L104.50,452.05L97.50,452.05Z" fill="#8b0000"/><path d="M112.40,467.80L115.90,473.25L108.90,473.25Z" fill="#8b0000"/><path d="M119.20,470.30L122.70,475.75L115.70,475.75Z" fill="#8b0000"/><path d="M115.60,479.90L119.10,485.35L112.10,485.35Z" fill="#8b0000"/><path d="M117.70,489.50L121.20,494.95L114.20,494.95Z" fill="#8b0000"/><path d="M132.60,462.80L136.10,468.25L129.10,468.25Z" fill="#8b0000"/><path d="M134.60,476.10L138.10,481.55L131.10,481.55Z" fill="#8b0000"/><path d="M136.40,484.90L139.90,490.35L132.90,490.35Z" fill="#8b0000"/><path d="M156.60,469.30L160.10,474.75L153.10,474.75Z" fill="#8b0000"/><path d="M160.30,473.60L163.80,479.05L156.80,479.05Z" fill="#8b0000"/><path d="M154.00,478.60L157.50,484.05L150.50,484.05Z" fill="#8b0000"/><path d="M155.30,482.40L158.80,487.85L151.80,487.85Z" fill="#8b0000"/><path d="M166.60,487.00L170.10,492.45L163.10,492.45Z" fill="#8b0000"/><path d="M175.00,455.20L178.50,460.65L171.50,460.65Z" fill="#8b0000"/><path d="M173.40,470.30L176.90,475.75L169.90,475.75Z" fill="#8b0000"/><path d="M177.50,474.90L181.00,480.35L174.00,480.35Z" fill="#8b0000"/><path d="M180.00,481.20L183.50,486.65L176.50,486.65Z" fill="#8b0000"/><path d="M177.50,484.20L181.00,489.65L174.00,489.65Z" fill="#8b0000"/><path d="M186.80,478.60L190.30,484.05L183.30,484.05Z" fill="#8b0000"/><path d="M190.60,478.60L194.10,484.05L187.10,484.05Z" fill="#8b0000"/><path d="M187.60,481.20L191.10,486.65L184.10,486.65Z" fill="#8b0000"/><path d="M199.40,464.80L202.90,470.25L195.90,470.25Z" fill="#8b0000"/><path d="M205.70,461.70L209.20,467.15L202.20,467.15Z" fill="#8b0000"/><path d="M199.40,478.10L202.90,483.55L195.90,483.55Z" fill="#8b0000"/><path d="M196.10,490.70L199.60,496.15L192.60,496.15Z" fill="#8b0000"/><path d="M218.90,472.30L222.40,477.75L215.40,477.75Z" fill="#8b0000"/><path d="M222.20,472.30L225.70,477.75L218.70,477.75Z" fill="#8b0000"/><path d="M225.20,472.80L228.70,478.25L221.70,478.25Z" fill="#8b0000"/><path d="M232.00,466.80L235.50,472.25L228.50,472.25Z" fill="#8b0000"/><path d="M235.30,471.80L238.80,477.25L231.80,477.25Z" fill="#8b0000"/><path d="M237.80,470.30L241.30,475.75L234.30,475.75Z" fill="#8b0000"/><path d="M237.80,478.60L241.30,484.05L234.30,484.05Z" fill="#8b0000"/><path d="M255.00,477.40L258.50,482.85L251.50,482.85Z" fill="#8b0000"/><path d="M258.50,485.40L262.00,490.85L255.00,490.85Z" fill="#8b0000"/><path d="M255.50,503.30L259.00,508.75L252.00,508.75Z" fill="#8b0000"/><path d="M269.80,469.80L273.30,475.25L266.30,475.25Z" fill="#8b0000"/><path d="M273.60,469.80L277.10,475.25L270.10,475.25Z" fill="#8b0000"/><path d="M277.40,471.80L280.90,477.25L273.90,477.25Z" fill="#8b0000"/><path d="M294.70,466.80L298.20,472.25L291.20,472.25Z" fill="#8b0000"/><path d="M296.00,478.10L299.50,483.55L292.50,483.55Z" fill="#8b0000"/><path d="M296.00,487.50L299.50,492.95L292.50,492.95Z" fill="#8b0000"/><path d="M312.40,489.50L315.90,494.95L308.90,494.95Z" fill="#8b0000"/><path d="M314.40,489.50L317.90,494.95L310.90,494.95Z" fill="#8b0000"/><circle cx="95.50" cy="477.90" r="3.5" fill="#00008b"/><circle cx="156.00" cy="481.10" r="3.5" fill="#00008b"/><circle cx="290.40" cy="474.10" r="3.5" fill="#00008b"/><rect x="40.5" y="539.3" width="307.50" height="89.40" fill="none" stroke="#6e6e6e" stroke-width="1"/><path d="M66.10,628.70v-3.5M66.10,539.30v3.5M117.30,628.70v-3.5M117.30,539.30v3.5M168.50,628.70v-3.5M168.50,539.30v3.5M219.70,628.70v-3.5M219.70,539.30v3.5M270.90,628.70v-3.5M270.90,539.30v3.5M322.10,628.70v-3.5M322.10,539.30v3.5M40.50,557.18h3.5M348.00,557.18h-3.5M40.50,575.06h3.5M348.00,575.06h-3.5M40.50,592.94h3.5M348.00,592.94h-3.5M40.50,610.82h3.5M348.00,610.82h-3.5" stroke="#6e6e6e" stroke-width="1" fill="none"/><g transform="translate(34.10,542.90) scale(0.955,1)"><text text-anchor="end" font-size="10.0" >250</text></g><g transform="translate(34.10,560.78) scale(0.955,1)"><text text-anchor="end" font-size="10.0" >200</text></g><g transform="translate(34.10,578.66) scale(0.955,1)"><text text-anchor="end" font-size="10.0" >150</text></g><g transform="translate(34.10,596.54) scale(0.955,1)"><text text-anchor="end" font-size="10.0" >100</text></g><g transform="translate(34.10,614.42) scale(0.955,1)"><text text-anchor="end" font-size="10.0" >50</text></g><g transform="translate(34.10,632.30) scale(0.955,1)"><text text-anchor="end" font-size="10.0" >0</text></g><g transform="translate(10.5,583.6) rotate(-90) scale(0.96,1)"><text text-anchor="middle" font-size="9.7">BS (ms<tspan dy="-4.5" font-size="6.3">-1</tspan><tspan dy="4.5">)</tspan></text></g><path d="M68.20,583.20V592.80M66.80,583.20h2.8M66.80,592.80h2.8" stroke="#e0a8a8" stroke-width="0.9" fill="none"/><path d="M77.60,569.30V578.90M76.20,569.30h2.8M76.20,578.90h2.8" stroke="#e0a8a8" stroke-width="0.9" fill="none"/><path d="M81.40,581.40V591.00M80.00,581.40h2.8M80.00,591.00h2.8" stroke="#e0a8a8" stroke-width="0.9" fill="none"/><path d="M89.70,588.70V598.30M88.30,588.70h2.8M88.30,598.30h2.8" stroke="#e0a8a8" stroke-width="0.9" fill="none"/><path d="M94.00,586.90V596.50M92.60,586.90h2.8M92.60,596.50h2.8" stroke="#e0a8a8" stroke-width="0.9" fill="none"/><path d="M94.70,594.00V603.60M93.30,594.00h2.8M93.30,603.60h2.8" stroke="#e0a8a8" stroke-width="0.9" fill="none"/><path d="M94.00,603.80V613.40M92.60,603.80h2.8M92.60,613.40h2.8" stroke="#e0a8a8" stroke-width="0.9" fill="none"/><path d="M80.90,605.30V614.90M79.50,605.30h2.8M79.50,614.90h2.8" stroke="#e0a8a8" stroke-width="0.9" fill="none"/><path d="M101.00,582.40V592.00M99.60,582.40h2.8M99.60,592.00h2.8" stroke="#e0a8a8" stroke-width="0.9" fill="none"/><path d="M118.20,574.30V583.90M116.80,574.30h2.8M116.80,583.90h2.8" stroke="#e0a8a8" stroke-width="0.9" fill="none"/><path d="M119.20,575.60V585.20M117.80,575.60h2.8M117.80,585.20h2.8" stroke="#e0a8a8" stroke-width="0.9" fill="none"/><path d="M117.40,583.20V592.80M116.00,583.20h2.8M116.00,592.80h2.8" stroke="#e0a8a8" stroke-width="0.9" fill="none"/><path d="M113.60,586.90V596.50M112.20,586.90h2.8M112.20,596.50h2.8" stroke="#e0a8a8" stroke-width="0.9" fill="none"/><path d="M118.70,595.70V605.30M117.30,595.70h2.8M117.30,605.30h2.8" stroke="#e0a8a8" stroke-width="0.9" fill="none"/><path d="M135.10,573.10V582.70M133.70,573.10h2.8M133.70,582.70h2.8" stroke="#e0a8a8" stroke-width="0.9" fill="none"/><path d="M132.60,580.10V589.70M131.20,580.10h2.8M131.20,589.70h2.8" stroke="#e0a8a8" stroke-width="0.9" fill="none"/><path d="M135.10,594.50V604.10M133.70,594.50h2.8M133.70,604.10h2.8" stroke="#e0a8a8" stroke-width="0.9" fill="none"/><path d="M137.60,594.50V604.10M136.20,594.50h2.8M136.20,604.10h2.8" stroke="#e0a8a8" stroke-width="0.9" fill="none"/><path d="M134.60,603.80V613.40M133.20,603.80h2.8M133.20,613.40h2.8" stroke="#e0a8a8" stroke-width="0.9" fill="none"/><path d="M157.10,548.60V566.60M155.70,548.60h2.8M155.70,566.60h2.8" stroke="#e0a8a8" stroke-width="0.9" fill="none"/><path d="M154.00,583.10V592.70M152.60,583.10h2.8M152.60,592.70h2.8" stroke="#e0a8a8" stroke-width="0.9" fill="none"/><path d="M160.30,604.10V616.10M158.90,604.10h2.8M158.90,616.10h2.8" stroke="#e0a8a8" stroke-width="0.9" fill="none"/><path d="M166.60,591.50V601.10M165.20,591.50h2.8M165.20,601.10h2.8" stroke="#e0a8a8" stroke-width="0.9" fill="none"/><path d="M176.70,570.00V579.60M175.30,570.00h2.8M175.30,579.60h2.8" stroke="#e0a8a8" stroke-width="0.9" fill="none"/><path d="M175.50,573.60V583.20M174.10,573.60h2.8M174.10,583.20h2.8" stroke="#e0a8a8" stroke-width="0.9" fill="none"/><path d="M180.00,580.10V589.70M178.60,580.10h2.8M178.60,589.70h2.8" stroke="#e0a8a8" stroke-width="0.9" fill="none"/><path d="M173.40,590.70V600.30M172.00,590.70h2.8M172.00,600.30h2.8" stroke="#e0a8a8" stroke-width="0.9" fill="none"/><path d="M177.50,595.20V604.80M176.10,595.20h2.8M176.10,604.80h2.8" stroke="#e0a8a8" stroke-width="0.9" fill="none"/><path d="M186.80,582.40V592.00M185.40,582.40h2.8M185.40,592.00h2.8" stroke="#e0a8a8" stroke-width="0.9" fill="none"/><path d="M186.00,591.20V600.80M184.60,591.20h2.8M184.60,600.80h2.8" stroke="#e0a8a8" stroke-width="0.9" fill="none"/><path d="M190.60,588.70V598.30M189.20,588.70h2.8M189.20,598.30h2.8" stroke="#e0a8a8" stroke-width="0.9" fill="none"/><path d="M195.60,586.90V596.50M194.20,586.90h2.8M194.20,596.50h2.8" stroke="#e0a8a8" stroke-width="0.9" fill="none"/><path d="M199.40,589.40V599.00M198.00,589.40h2.8M198.00,599.00h2.8" stroke="#e0a8a8" stroke-width="0.9" fill="none"/><path d="M205.70,585.20V594.80M204.30,585.20h2.8M204.30,594.80h2.8" stroke="#e0a8a8" stroke-width="0.9" fill="none"/><path d="M199.40,598.30V607.90M198.00,598.30h2.8M198.00,607.90h2.8" stroke="#e0a8a8" stroke-width="0.9" fill="none"/><path d="M218.90,572.50V582.10M217.50,572.50h2.8M217.50,582.10h2.8" stroke="#e0a8a8" stroke-width="0.9" fill="none"/><path d="M222.20,586.90V596.50M220.80,586.90h2.8M220.80,596.50h2.8" stroke="#e0a8a8" stroke-width="0.9" fill="none"/><path d="M224.70,590.70V600.30M223.30,590.70h2.8M223.30,600.30h2.8" stroke="#e0a8a8" stroke-width="0.9" fill="none"/><path d="M231.50,569.30V578.90M230.10,569.30h2.8M230.10,578.90h2.8" stroke="#e0a8a8" stroke-width="0.9" fill="none"/><path d="M237.30,571.00V580.60M235.90,571.00h2.8M235.90,580.60h2.8" stroke="#e0a8a8" stroke-width="0.9" fill="none"/><path d="M237.80,585.20V594.80M236.40,585.20h2.8M236.40,594.80h2.8" stroke="#e0a8a8" stroke-width="0.9" fill="none"/><path d="M236.60,588.70V598.30M235.20,588.70h2.8M235.20,598.30h2.8" stroke="#e0a8a8" stroke-width="0.9" fill="none"/><path d="M235.30,590.20V599.80M233.90,590.20h2.8M233.90,599.80h2.8" stroke="#e0a8a8" stroke-width="0.9" fill="none"/><path d="M254.20,589.90V599.50M252.80,589.90h2.8M252.80,599.50h2.8" stroke="#e0a8a8" stroke-width="0.9" fill="none"/><path d="M258.50,590.70V600.30M257.10,590.70h2.8M257.10,600.30h2.8" stroke="#e0a8a8" stroke-width="0.9" fill="none"/><path d="M255.50,604.10V613.70M254.10,604.10h2.8M254.10,613.70h2.8" stroke="#e0a8a8" stroke-width="0.9" fill="none"/><path d="M270.10,586.20V595.80M268.70,586.20h2.8M268.70,595.80h2.8" stroke="#e0a8a8" stroke-width="0.9" fill="none"/><path d="M277.60,587.70V597.30M276.20,587.70h2.8M276.20,597.30h2.8" stroke="#e0a8a8" stroke-width="0.9" fill="none"/><path d="M273.10,556.70V566.30M271.70,556.70h2.8M271.70,566.30h2.8" stroke="#e0a8a8" stroke-width="0.9" fill="none"/><path d="M294.70,582.60V592.20M293.30,582.60h2.8M293.30,592.20h2.8" stroke="#e0a8a8" stroke-width="0.9" fill="none"/><path d="M296.00,592.00V601.60M294.60,592.00h2.8M294.60,601.60h2.8" stroke="#e0a8a8" stroke-width="0.9" fill="none"/><path d="M296.50,602.50V612.10M295.10,602.50h2.8M295.10,612.10h2.8" stroke="#e0a8a8" stroke-width="0.9" fill="none"/><path d="M312.40,592.00V601.60M311.00,592.00h2.8M311.00,601.60h2.8" stroke="#e0a8a8" stroke-width="0.9" fill="none"/><path d="M314.40,588.20V597.80M313.00,588.20h2.8M313.00,597.80h2.8" stroke="#e0a8a8" stroke-width="0.9" fill="none"/><path d="M95.50,570.60V578.60M94.10,570.60h2.8M94.10,578.60h2.8" stroke="#a8a8e8" stroke-width="0.9" fill="none"/><path d="M156.00,583.20V595.20M154.60,583.20h2.8M154.60,595.20h2.8" stroke="#a8a8e8" stroke-width="0.9" fill="none"/><path d="M290.40,582.20V590.20M289.00,582.20h2.8M289.00,590.20h2.8" stroke="#a8a8e8" stroke-width="0.9" fill="none"/><path d="M68.20,585.00L71.70,590.45L64.70,590.45Z" fill="#8b0000"/><path d="M77.60,571.10L81.10,576.55L74.10,576.55Z" fill="#8b0000"/><path d="M81.40,583.20L84.90,588.65L77.90,588.65Z" fill="#8b0000"/><path d="M89.70,590.50L93.20,595.95L86.20,595.95Z" fill="#8b0000"/><path d="M94.00,588.70L97.50,594.15L90.50,594.15Z" fill="#8b0000"/><path d="M94.70,595.80L98.20,601.25L91.20,601.25Z" fill="#8b0000"/><path d="M94.00,605.60L97.50,611.05L90.50,611.05Z" fill="#8b0000"/><path d="M80.90,607.10L84.40,612.55L77.40,612.55Z" fill="#8b0000"/><path d="M101.00,584.20L104.50,589.65L97.50,589.65Z" fill="#8b0000"/><path d="M118.20,576.10L121.70,581.55L114.70,581.55Z" fill="#8b0000"/><path d="M119.20,577.40L122.70,582.85L115.70,582.85Z" fill="#8b0000"/><path d="M117.40,585.00L120.90,590.45L113.90,590.45Z" fill="#8b0000"/><path d="M113.60,588.70L117.10,594.15L110.10,594.15Z" fill="#8b0000"/><path d="M118.70,597.50L122.20,602.95L115.20,602.95Z" fill="#8b0000"/><path d="M135.10,574.90L138.60,580.35L131.60,580.35Z" fill="#8b0000"/><path d="M132.60,581.90L136.10,587.35L129.10,587.35Z" fill="#8b0000"/><path d="M135.10,596.30L138.60,601.75L131.60,601.75Z" fill="#8b0000"/><path d="M137.60,596.30L141.10,601.75L134.10,601.75Z" fill="#8b0000"/><path d="M134.60,605.60L138.10,611.05L131.10,611.05Z" fill="#8b0000"/><path d="M157.10,554.60L160.60,560.05L153.60,560.05Z" fill="#8b0000"/><path d="M154.00,584.90L157.50,590.35L150.50,590.35Z" fill="#8b0000"/><path d="M160.30,607.10L163.80,612.55L156.80,612.55Z" fill="#8b0000"/><path d="M166.60,593.30L170.10,598.75L163.10,598.75Z" fill="#8b0000"/><path d="M176.70,571.80L180.20,577.25L173.20,577.25Z" fill="#8b0000"/><path d="M175.50,575.40L179.00,580.85L172.00,580.85Z" fill="#8b0000"/><path d="M180.00,581.90L183.50,587.35L176.50,587.35Z" fill="#8b0000"/><path d="M173.40,592.50L176.90,597.95L169.90,597.95Z" fill="#8b0000"/><path d="M177.50,597.00L181.00,602.45L174.00,602.45Z" fill="#8b0000"/><path d="M186.80,584.20L190.30,589.65L183.30,589.65Z" fill="#8b0000"/><path d="M186.00,593.00L189.50,598.45L182.50,598.45Z" fill="#8b0000"/><path d="M190.60,590.50L194.10,595.95L187.10,595.95Z" fill="#8b0000"/><path d="M195.60,588.70L199.10,594.15L192.10,594.15Z" fill="#8b0000"/><path d="M199.40,591.20L202.90,596.65L195.90,596.65Z" fill="#8b0000"/><path d="M205.70,587.00L209.20,592.45L202.20,592.45Z" fill="#8b0000"/><path d="M199.40,600.10L202.90,605.55L195.90,605.55Z" fill="#8b0000"/><path d="M218.90,574.30L222.40,579.75L215.40,579.75Z" fill="#8b0000"/><path d="M222.20,588.70L225.70,594.15L218.70,594.15Z" fill="#8b0000"/><path d="M224.70,592.50L228.20,597.95L221.20,597.95Z" fill="#8b0000"/><path d="M231.50,571.10L235.00,576.55L228.00,576.55Z" fill="#8b0000"/><path d="M237.30,572.80L240.80,578.25L233.80,578.25Z" fill="#8b0000"/><path d="M237.80,587.00L241.30,592.45L234.30,592.45Z" fill="#8b0000"/><path d="M236.60,590.50L240.10,595.95L233.10,595.95Z" fill="#8b0000"/><path d="M235.30,592.00L238.80,597.45L231.80,597.45Z" fill="#8b0000"/><path d="M254.20,591.70L257.70,597.15L250.70,597.15Z" fill="#8b0000"/><path d="M258.50,592.50L262.00,597.95L255.00,597.95Z" fill="#8b0000"/><path d="M255.50,605.90L259.00,611.35L252.00,611.35Z" fill="#8b0000"/><path d="M270.10,588.00L273.60,593.45L266.60,593.45Z" fill="#8b0000"/><path d="M277.60,589.50L281.10,594.95L274.10,594.95Z" fill="#8b0000"/><path d="M273.10,558.50L276.60,563.95L269.60,563.95Z" fill="#8b0000"/><path d="M294.70,584.40L298.20,589.85L291.20,589.85Z" fill="#8b0000"/><path d="M296.00,593.80L299.50,599.25L292.50,599.25Z" fill="#8b0000"/><path d="M296.50,604.30L300.00,609.75L293.00,609.75Z" fill="#8b0000"/><path d="M312.40,593.80L315.90,599.25L308.90,599.25Z" fill="#8b0000"/><path d="M314.40,590.00L317.90,595.45L310.90,595.45Z" fill="#8b0000"/><circle cx="95.50" cy="574.60" r="3.5" fill="#00008b"/><circle cx="156.00" cy="589.20" r="3.5" fill="#00008b"/><circle cx="290.40" cy="586.20" r="3.5" fill="#00008b"/><g transform="translate(65.70,642.10) scale(0.955,1)"><text text-anchor="middle" font-size="10.0" >0.0</text></g><g transform="translate(116.90,642.10) scale(0.955,1)"><text text-anchor="middle" font-size="10.0" >0.2</text></g><g transform="translate(168.10,642.10) scale(0.955,1)"><text text-anchor="middle" font-size="10.0" >0.4</text></g><g transform="translate(219.30,642.10) scale(0.955,1)"><text text-anchor="middle" font-size="10.0" >0.6</text></g><g transform="translate(270.50,642.10) scale(0.955,1)"><text text-anchor="middle" font-size="10.0" >0.8</text></g><g transform="translate(321.70,642.10) scale(0.955,1)"><text text-anchor="middle" font-size="10.0" >1.0</text></g><g transform="translate(192.60,650.70) scale(0.985,1)"><text text-anchor="middle" font-size="10.0" >Phase with respect to T</text></g><g transform="translate(244.00,654.20) scale(1.0,1)"><text text-anchor="start" font-size="7.0" >c</text></g></svg>
</body></html>
